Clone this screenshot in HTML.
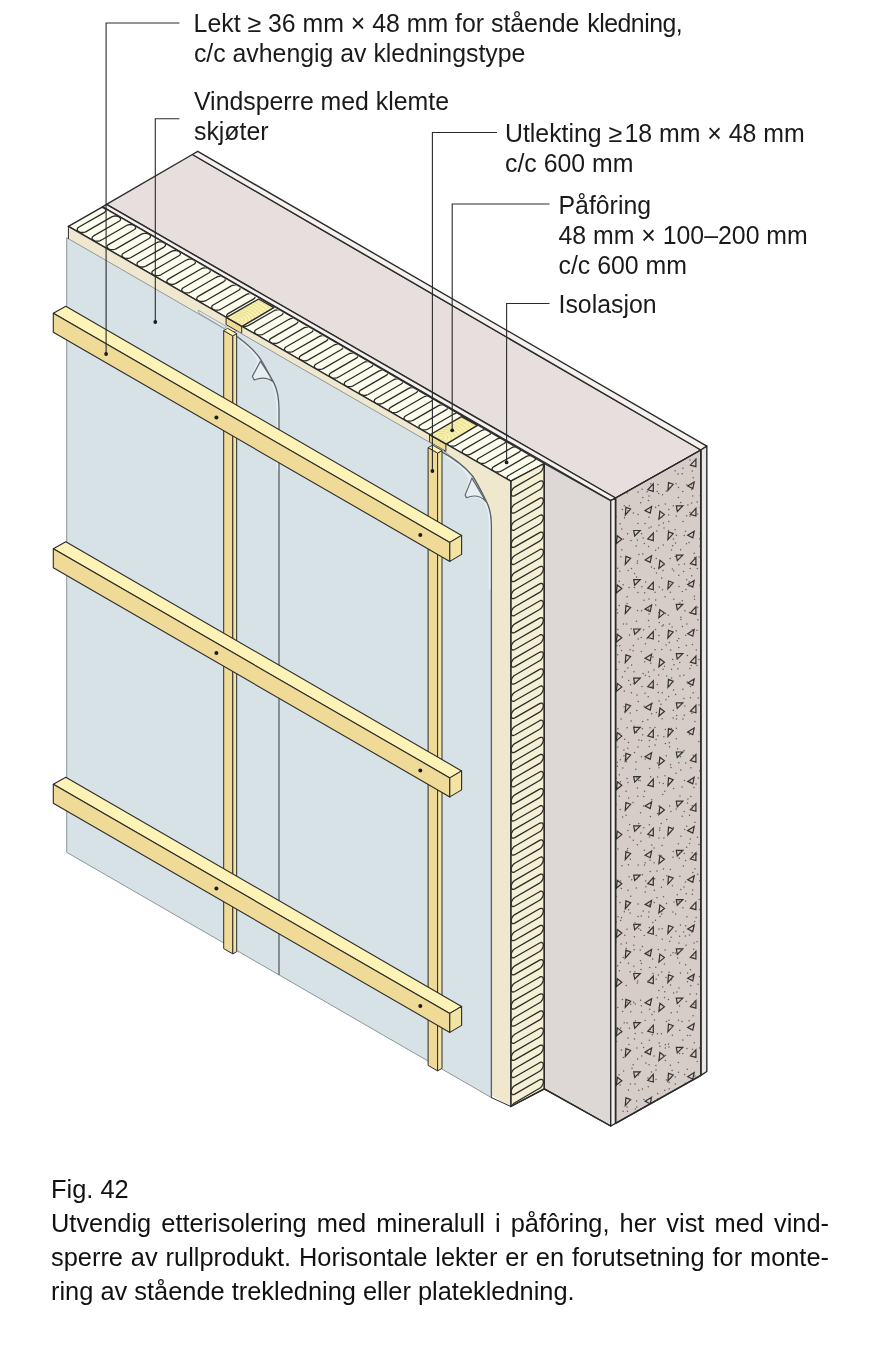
<!DOCTYPE html>
<html lang="no"><head><meta charset="utf-8"><title>Fig. 42</title>
<style>
html,body{margin:0;padding:0;background:#fff;}
body{width:894px;height:1356px;position:relative;overflow:hidden;font-family:"Liberation Sans",sans-serif;color:#111;}
svg{position:absolute;left:0;top:0;display:block;will-change:transform;}
.cap{will-change:transform;position:absolute;left:50.5px;top:1173.2px;width:778px;font-size:25.4px;line-height:33.9px;}
.cap div{white-space:nowrap;}
.cap .j{text-align:justify;text-align-last:justify;white-space:normal;}
</style></head><body>
<svg width="894" height="1356" viewBox="0 0 894 1356" font-family="'Liberation Sans', sans-serif" fill="#1a1a1a"><polygon points="106.5,204.4 192.4,154.5 700.9,450.0 615.6,498.0" fill="#e7dfdd" stroke="#2b2b2b" stroke-width="1.4" stroke-linejoin="round" />
<polygon points="192.4,154.5 197.7,151.3 706.8,446.2 700.9,450.0" fill="#f4f1ef" stroke="#2b2b2b" stroke-width="1.4" stroke-linejoin="round" />
<polygon points="102.6,206.8 106.5,204.4 615.6,498.0 610.7,500.7" fill="#f4f1ef" stroke="#2b2b2b" stroke-width="1.4" stroke-linejoin="round" />
<polygon points="68.4,226.4 102.6,206.8 544.3,463.5 510.8,481.2" fill="#fdfdee" stroke="#2b2b2b" stroke-width="1.4" stroke-linejoin="round" />
<clipPath id="cTop"><polygon points="68.4,226.4 102.6,206.8 544.3,463.5 510.8,481.2"/></clipPath>
<clipPath id="cT1"><polygon points="68.4,226.4 102.6,206.8 258.7,299.0 226.1,317.6"/></clipPath><path d="M74.3,195.3L48.7,210.0L47.8,210.8L47.3,211.7L47.3,212.7L47.8,213.6L48.7,214.4L50.1,214.9L51.7,215.2L53.3,215.2L54.9,214.9L56.2,214.4L81.8,199.6L83.1,199.0L84.7,198.8L86.3,198.8L87.9,199.0L89.2,199.6L90.2,200.4L90.7,201.3L90.7,202.2L90.2,203.2L89.2,203.9L63.7,218.7L62.7,219.4L62.2,220.3L62.2,221.3L62.7,222.2L63.7,223.0L65.0,223.5L66.6,223.8L68.3,223.8L69.8,223.5L71.2,223.0L96.7,208.2L98.0,207.7L99.6,207.4L101.3,207.4L102.8,207.7L104.2,208.2L105.2,209.0L105.7,209.9L105.7,210.9L105.2,211.8L104.2,212.6L78.6,227.3L77.7,228.1L77.2,229.0L77.2,229.9L77.7,230.8L78.6,231.6L80.0,232.2L81.6,232.5L83.2,232.5L84.8,232.2L86.1,231.6L111.7,216.9L113.0,216.3L114.6,216.0L116.2,216.0L117.8,216.3L119.1,216.9L120.1,217.6L120.6,218.6L120.6,219.5L120.1,220.4L119.1,221.2L93.6,235.9L92.6,236.7L92.1,237.6L92.1,238.6L92.6,239.5L93.6,240.2L94.9,240.8L96.5,241.1L98.2,241.1L99.7,240.8L101.1,240.2L126.6,225.5L127.9,224.9L129.5,224.6L131.2,224.6L132.7,224.9L134.1,225.5L135.1,226.3L135.6,227.2L135.6,228.1L135.1,229.0L134.1,229.8L108.5,244.6L107.6,245.3L107.1,246.2L107.1,247.2L107.6,248.1L108.5,248.9L109.9,249.4L111.5,249.7L113.1,249.7L114.7,249.4L116.0,248.9L141.6,234.1L142.9,233.6L144.5,233.3L146.1,233.3L147.7,233.6L149.0,234.1L150.0,234.9L150.5,235.8L150.5,236.8L150.0,237.7L149.0,238.5L123.5,253.2L122.5,254.0L122.0,254.9L122.0,255.8L122.5,256.7L123.5,257.5L124.8,258.1L126.4,258.4L128.1,258.4L129.6,258.1L131.0,257.5L156.5,242.8L157.8,242.2L159.4,241.9L161.1,241.9L162.6,242.2L164.0,242.8L165.0,243.5L165.5,244.4L165.5,245.4L165.0,246.3L164.0,247.1L138.4,261.8L137.5,262.6L137.0,263.5L137.0,264.5L137.5,265.4L138.4,266.1L139.8,266.7L141.4,267.0L143.0,267.0L144.6,266.7L145.9,266.1L171.5,251.4L172.8,250.8L174.4,250.5L176.0,250.5L177.6,250.8L178.9,251.4L179.9,252.2L180.4,253.1L180.4,254.0L179.9,254.9L178.9,255.7L153.4,270.5L152.4,271.2L151.9,272.1L151.9,273.1L152.4,274.0L153.4,274.8L154.7,275.3L156.3,275.6L158.0,275.6L159.5,275.3L160.9,274.8L186.4,260.0L187.7,259.5L189.3,259.2L191.0,259.2L192.5,259.5L193.9,260.0L194.9,260.8L195.4,261.7L195.4,262.7L194.9,263.6L193.9,264.3L168.3,279.1L167.4,279.9L166.9,280.8L166.9,281.7L167.4,282.6L168.3,283.4L169.7,284.0L171.3,284.3L172.9,284.3L174.5,284.0L175.8,283.4L201.4,268.7L202.7,268.1L204.3,267.8L205.9,267.8L207.5,268.1L208.8,268.7L209.8,269.4L210.3,270.3L210.3,271.3L209.8,272.2L208.8,273.0L183.3,287.7L182.3,288.5L181.8,289.4L181.8,290.4L182.3,291.3L183.3,292.0L184.6,292.6L186.2,292.9L187.9,292.9L189.4,292.6L190.8,292.0L216.3,277.3L217.6,276.7L219.2,276.4L220.9,276.4L222.4,276.7L223.8,277.3L224.8,278.1L225.3,279.0L225.3,279.9L224.8,280.8L223.8,281.6L198.2,296.4L197.3,297.1L196.8,298.0L196.8,299.0L197.3,299.9L198.2,300.7L199.6,301.2L201.2,301.5L202.8,301.5L204.4,301.2L205.7,300.7L231.3,285.9L232.6,285.4L234.2,285.1L235.8,285.1L237.4,285.4L238.7,285.9L239.7,286.7L240.2,287.6L240.2,288.6L239.7,289.5L238.7,290.2L213.2,305.0L212.2,305.8L211.7,306.7L211.7,307.6L212.2,308.5L213.2,309.3L214.5,309.9L216.1,310.2L217.8,310.2L219.3,309.9L220.7,309.3L246.2,294.6L247.5,294.0L249.1,293.7L250.8,293.7L252.3,294.0L253.7,294.6L254.7,295.3L255.2,296.2L255.2,297.2L254.7,298.1L253.7,298.9L228.1,313.6L227.2,314.4L226.7,315.3L226.7,316.3L227.2,317.2L228.1,317.9L229.5,318.5L231.1,318.8L232.7,318.8L234.3,318.5L235.6,317.9L261.2,303.2L262.5,302.6L264.1,302.3L265.7,302.3L267.3,302.6L268.6,303.2L269.6,304.0L270.1,304.9L270.1,305.8L269.6,306.7L268.6,307.5L243.1,322.2L242.1,323.0L241.6,323.9L241.6,324.9L242.1,325.8L243.1,326.6L244.4,327.1L246.0,327.4L247.7,327.4L249.2,327.1L250.6,326.6L276.1,311.8L277.4,311.3L279.0,311.0L280.7,311.0L282.2,311.3L283.6,311.8L284.6,312.6L285.1,313.5L285.1,314.5L284.6,315.4L283.6,316.1L258.0,330.9L257.1,331.7L256.6,332.6L256.6,333.5L257.1,334.4L258.0,335.2L259.4,335.8L261.0,336.1L262.6,336.1L264.2,335.8L265.5,335.2L291.1,320.5L292.4,319.9L294.0,319.6L295.6,319.6L297.2,319.9L298.5,320.5L299.5,321.2L300.0,322.1L300.0,323.1L299.5,324.0L298.5,324.8L273.0,339.5L272.0,340.3L271.5,341.2L271.5,342.1L272.0,343.1L273.0,343.8L274.3,344.4L275.9,344.7L277.6,344.7L279.1,344.4L280.5,343.8L306.0,329.1L307.3,328.5L308.9,328.2L310.6,328.2L312.1,328.5L313.5,329.1L314.5,329.9L315.0,330.8L315.0,331.7L314.5,332.6L313.5,333.4L287.9,348.1L287.0,348.9L286.5,349.8L286.5,350.8L287.0,351.7L287.9,352.5L289.3,353.0L290.9,353.3L292.5,353.3L294.1,353.0L295.4,352.5L321.0,337.7L322.3,337.2L323.9,336.9L325.5,336.9L327.1,337.2L328.4,337.7L329.4,338.5L329.9,339.4L329.9,340.4L329.4,341.3L328.4,342.0L302.9,356.8L301.9,357.5L301.4,358.5L301.4,359.4L301.9,360.3L302.9,361.1L304.2,361.7L305.8,361.9L307.5,361.9L309.0,361.7L310.4,361.1L335.9,346.3L337.2,345.8L338.8,345.5L340.5,345.5L342.0,345.8L343.4,346.3L344.4,347.1L344.9,348.0L344.9,349.0L344.4,349.9L343.4,350.7L317.8,365.4L316.9,366.2L316.4,367.1L316.4,368.0L316.9,369.0L317.8,369.7L319.2,370.3L320.8,370.6L322.4,370.6L324.0,370.3L325.3,369.7L350.9,355.0L352.2,354.4L353.8,354.1L355.4,354.1L357.0,354.4L358.3,355.0L359.3,355.8L359.8,356.7L359.8,357.6L359.3,358.5L358.3,359.3L332.8,374.0L331.8,374.8L331.3,375.7L331.3,376.7L331.8,377.6L332.8,378.4L334.1,378.9L335.7,379.2L337.4,379.2L338.9,378.9L340.3,378.4L365.8,363.6L367.1,363.0L368.7,362.8L370.4,362.8L371.9,363.0L373.3,363.6L374.3,364.4L374.8,365.3L374.8,366.2L374.3,367.2L373.3,367.9L347.7,382.7L346.8,383.4L346.3,384.4L346.3,385.3L346.8,386.2L347.7,387.0L349.1,387.5L350.7,387.8L352.3,387.8L353.9,387.5L355.2,387.0L380.8,372.2L382.1,371.7L383.7,371.4L385.3,371.4L386.9,371.7L388.2,372.2L389.2,373.0L389.7,373.9L389.7,374.9L389.2,375.8L388.2,376.6L362.7,391.3L361.7,392.1L361.2,393.0L361.2,393.9L361.7,394.8L362.7,395.6L364.0,396.2L365.6,396.5L367.3,396.5L368.8,396.2L370.2,395.6L395.7,380.9L397.0,380.3L398.6,380.0L400.3,380.0L401.8,380.3L403.2,380.9L404.2,381.6L404.7,382.6L404.7,383.5L404.2,384.4L403.2,385.2L377.6,399.9L376.7,400.7L376.2,401.6L376.2,402.6L376.7,403.5L377.6,404.2L379.0,404.8L380.6,405.1L382.2,405.1L383.8,404.8L385.1,404.2" fill="none" stroke="#2b2b2b" stroke-width="1.3" clip-path="url(#cT1)" stroke-linejoin="round"/>
<clipPath id="cT2"><polygon points="241.7,326.6 273.8,307.6 461.5,416.6 429.6,435.0"/></clipPath><path d="M251.7,297.7L226.1,312.5L225.2,313.2L224.7,314.1L224.7,315.1L225.2,316.0L226.1,316.8L227.5,317.3L229.1,317.6L230.7,317.6L232.3,317.3L233.6,316.8L259.2,302.0L260.5,301.5L262.1,301.2L263.7,301.2L265.3,301.5L266.6,302.0L267.6,302.8L268.1,303.7L268.1,304.7L267.6,305.6L266.6,306.4L241.1,321.1L240.1,321.9L239.6,322.8L239.6,323.7L240.1,324.6L241.1,325.4L242.4,326.0L244.0,326.3L245.7,326.3L247.2,326.0L248.6,325.4L274.1,310.7L275.4,310.1L277.0,309.8L278.7,309.8L280.2,310.1L281.6,310.7L282.6,311.4L283.1,312.3L283.1,313.3L282.6,314.2L281.6,315.0L256.0,329.7L255.1,330.5L254.6,331.4L254.6,332.4L255.1,333.3L256.0,334.0L257.4,334.6L259.0,334.9L260.6,334.9L262.2,334.6L263.5,334.0L289.1,319.3L290.4,318.7L292.0,318.4L293.6,318.4L295.2,318.7L296.5,319.3L297.5,320.1L298.0,321.0L298.0,321.9L297.5,322.8L296.5,323.6L271.0,338.4L270.0,339.1L269.5,340.0L269.5,341.0L270.0,341.9L271.0,342.7L272.3,343.2L273.9,343.5L275.6,343.5L277.1,343.2L278.5,342.7L304.0,327.9L305.3,327.4L306.9,327.1L308.6,327.1L310.1,327.4L311.5,327.9L312.5,328.7L313.0,329.6L313.0,330.6L312.5,331.5L311.5,332.2L285.9,347.0L285.0,347.8L284.5,348.7L284.5,349.6L285.0,350.5L285.9,351.3L287.3,351.9L288.9,352.2L290.5,352.2L292.1,351.9L293.4,351.3L319.0,336.6L320.3,336.0L321.9,335.7L323.5,335.7L325.1,336.0L326.4,336.6L327.4,337.3L327.9,338.2L327.9,339.2L327.4,340.1L326.4,340.9L300.9,355.6L299.9,356.4L299.4,357.3L299.4,358.3L299.9,359.2L300.9,359.9L302.2,360.5L303.8,360.8L305.5,360.8L307.0,360.5L308.4,359.9L333.9,345.2L335.2,344.6L336.8,344.3L338.5,344.3L340.0,344.6L341.4,345.2L342.4,346.0L342.9,346.9L342.9,347.8L342.4,348.7L341.4,349.5L315.8,364.3L314.9,365.0L314.4,365.9L314.4,366.9L314.9,367.8L315.8,368.6L317.2,369.1L318.8,369.4L320.4,369.4L322.0,369.1L323.3,368.6L348.9,353.8L350.2,353.3L351.8,353.0L353.4,353.0L355.0,353.3L356.3,353.8L357.3,354.6L357.8,355.5L357.8,356.5L357.3,357.4L356.3,358.1L330.8,372.9L329.8,373.7L329.3,374.6L329.3,375.5L329.8,376.4L330.8,377.2L332.1,377.8L333.7,378.1L335.4,378.1L336.9,377.8L338.3,377.2L363.8,362.5L365.1,361.9L366.7,361.6L368.4,361.6L369.9,361.9L371.3,362.5L372.3,363.2L372.8,364.1L372.8,365.1L372.3,366.0L371.3,366.8L345.7,381.5L344.8,382.3L344.3,383.2L344.3,384.2L344.8,385.1L345.7,385.8L347.1,386.4L348.7,386.7L350.3,386.7L351.9,386.4L353.2,385.8L378.8,371.1L380.1,370.5L381.7,370.2L383.3,370.2L384.9,370.5L386.2,371.1L387.2,371.9L387.7,372.8L387.7,373.7L387.2,374.6L386.2,375.4L360.7,390.1L359.7,390.9L359.2,391.8L359.2,392.8L359.7,393.7L360.7,394.5L362.0,395.0L363.6,395.3L365.3,395.3L366.8,395.0L368.2,394.5L393.7,379.7L395.0,379.2L396.6,378.9L398.3,378.9L399.8,379.2L401.2,379.7L402.2,380.5L402.7,381.4L402.7,382.4L402.2,383.3L401.2,384.0L375.6,398.8L374.7,399.6L374.2,400.5L374.2,401.4L374.7,402.3L375.6,403.1L377.0,403.7L378.6,404.0L380.2,404.0L381.8,403.7L383.1,403.1L408.7,388.4L410.0,387.8L411.6,387.5L413.2,387.5L414.8,387.8L416.1,388.4L417.1,389.1L417.6,390.0L417.6,391.0L417.1,391.9L416.1,392.7L390.6,407.4L389.6,408.2L389.1,409.1L389.1,410.0L389.6,411.0L390.6,411.7L391.9,412.3L393.5,412.6L395.2,412.6L396.7,412.3L398.1,411.7L423.6,397.0L424.9,396.4L426.5,396.1L428.2,396.1L429.7,396.4L431.1,397.0L432.1,397.8L432.6,398.7L432.6,399.6L432.1,400.5L431.1,401.3L405.5,416.0L404.6,416.8L404.1,417.7L404.1,418.7L404.6,419.6L405.5,420.4L406.9,420.9L408.5,421.2L410.1,421.2L411.7,420.9L413.0,420.4L438.6,405.6L439.9,405.1L441.5,404.8L443.1,404.8L444.7,405.1L446.0,405.6L447.0,406.4L447.5,407.3L447.5,408.2L447.0,409.2L446.0,409.9L420.5,424.7L419.5,425.4L419.0,426.4L419.0,427.3L419.5,428.2L420.5,429.0L421.8,429.6L423.4,429.8L425.1,429.8L426.6,429.6L428.0,429.0L453.5,414.2L454.8,413.7L456.4,413.4L458.1,413.4L459.6,413.7L461.0,414.2L462.0,415.0L462.5,415.9L462.5,416.9L462.0,417.8L461.0,418.6L435.4,433.3L434.5,434.1L434.0,435.0L434.0,435.9L434.5,436.8L435.4,437.6L436.8,438.2L438.4,438.5L440.0,438.5L441.6,438.2L442.9,437.6L468.5,422.9L469.8,422.3L471.4,422.0L473.0,422.0L474.6,422.3L475.9,422.9L476.9,423.7L477.4,424.6L477.4,425.5L476.9,426.4L475.9,427.2L450.4,441.9L449.4,442.7L448.9,443.6L448.9,444.6L449.4,445.5L450.4,446.3L451.7,446.8L453.3,447.1L455.0,447.1L456.5,446.8L457.9,446.3L483.4,431.5L484.7,430.9L486.3,430.7L488.0,430.7L489.5,430.9L490.9,431.5L491.9,432.3L492.4,433.2L492.4,434.1L491.9,435.1L490.9,435.8L465.3,450.6L464.4,451.3L463.9,452.2L463.9,453.2L464.4,454.1L465.3,454.9L466.7,455.4L468.3,455.7L469.9,455.7L471.5,455.4L472.8,454.9L498.4,440.1L499.7,439.6L501.3,439.3L502.9,439.3L504.5,439.6L505.8,440.1L506.8,440.9L507.3,441.8L507.3,442.8L506.8,443.7L505.8,444.5L480.3,459.2L479.3,460.0L478.8,460.9L478.8,461.8L479.3,462.7L480.3,463.5L481.6,464.1L483.2,464.4L484.9,464.4L486.4,464.1L487.8,463.5L513.3,448.8L514.6,448.2L516.2,447.9L517.9,447.9L519.4,448.2L520.8,448.8L521.8,449.5L522.3,450.5L522.3,451.4L521.8,452.3L520.8,453.1L495.2,467.8L494.3,468.6L493.8,469.5L493.8,470.5L494.3,471.4L495.2,472.1L496.6,472.7L498.2,473.0L499.8,473.0L501.4,472.7L502.7,472.1L528.3,457.4L529.6,456.8L531.2,456.5L532.8,456.5L534.4,456.8L535.7,457.4L536.7,458.2L537.2,459.1L537.2,460.0L536.7,460.9L535.7,461.7L510.2,476.5L509.2,477.2L508.7,478.1L508.7,479.1L509.2,480.0L510.2,480.8L511.5,481.3L513.1,481.6L514.8,481.6L516.3,481.3L517.7,480.8L543.2,466.0L544.5,465.5L546.1,465.2L547.8,465.2L549.3,465.5L550.7,466.0L551.7,466.8L552.2,467.7L552.2,468.7L551.7,469.6L550.7,470.4L525.1,485.1L524.2,485.9L523.7,486.8L523.7,487.7L524.2,488.6L525.1,489.4L526.5,490.0L528.1,490.3L529.7,490.3L531.3,490.0L532.6,489.4L558.2,474.7L559.5,474.1L561.1,473.8L562.7,473.8L564.3,474.1L565.6,474.7L566.6,475.4L567.1,476.3L567.1,477.3L566.6,478.2L565.6,479.0L540.1,493.7L539.1,494.5L538.6,495.4L538.6,496.4L539.1,497.3L540.1,498.0L541.4,498.6L543.0,498.9L544.7,498.9L546.2,498.6L547.6,498.0L573.1,483.3L574.4,482.7L576.0,482.4L577.7,482.4L579.2,482.7L580.6,483.3L581.6,484.1L582.1,485.0L582.1,485.9L581.6,486.8L580.6,487.6L555.0,502.4L554.1,503.1L553.6,504.0L553.6,505.0L554.1,505.9L555.0,506.7L556.4,507.2L558.0,507.5L559.6,507.5L561.2,507.2L562.5,506.7" fill="none" stroke="#2b2b2b" stroke-width="1.3" clip-path="url(#cT2)" stroke-linejoin="round"/>
<clipPath id="cT3"><polygon points="445.9,444.4 477.4,425.4 544.3,463.5 510.8,481.2"/></clipPath><path d="M459.3,417.6L433.7,432.3L432.8,433.1L432.3,434.0L432.3,435.0L432.8,435.9L433.7,436.6L435.1,437.2L436.7,437.5L438.3,437.5L439.9,437.2L441.2,436.6L466.8,421.9L468.1,421.3L469.7,421.0L471.3,421.0L472.9,421.3L474.2,421.9L475.2,422.7L475.7,423.6L475.7,424.5L475.2,425.4L474.2,426.2L448.7,441.0L447.7,441.7L447.2,442.6L447.2,443.6L447.7,444.5L448.7,445.3L450.0,445.8L451.6,446.1L453.3,446.1L454.8,445.8L456.2,445.3L481.7,430.5L483.0,430.0L484.6,429.7L486.3,429.7L487.8,430.0L489.2,430.5L490.2,431.3L490.7,432.2L490.7,433.2L490.2,434.1L489.2,434.8L463.6,449.6L462.7,450.4L462.2,451.3L462.2,452.2L462.7,453.1L463.6,453.9L465.0,454.5L466.6,454.8L468.2,454.8L469.8,454.5L471.1,453.9L496.7,439.2L498.0,438.6L499.6,438.3L501.2,438.3L502.8,438.6L504.1,439.2L505.1,439.9L505.6,440.8L505.6,441.8L505.1,442.7L504.1,443.5L478.6,458.2L477.6,459.0L477.1,459.9L477.1,460.9L477.6,461.8L478.6,462.5L479.9,463.1L481.5,463.4L483.2,463.4L484.7,463.1L486.1,462.5L511.6,447.8L512.9,447.2L514.5,446.9L516.2,446.9L517.7,447.2L519.1,447.8L520.1,448.6L520.6,449.5L520.6,450.4L520.1,451.3L519.1,452.1L493.5,466.9L492.6,467.6L492.1,468.5L492.1,469.5L492.6,470.4L493.5,471.2L494.9,471.7L496.5,472.0L498.1,472.0L499.7,471.7L501.0,471.2L526.6,456.4L527.9,455.9L529.5,455.6L531.1,455.6L532.7,455.9L534.0,456.4L535.0,457.2L535.5,458.1L535.5,459.1L535.0,460.0L534.0,460.7L508.5,475.5L507.5,476.3L507.0,477.2L507.0,478.1L507.5,479.0L508.5,479.8L509.8,480.4L511.4,480.7L513.1,480.7L514.6,480.4L516.0,479.8L541.5,465.1L542.8,464.5L544.4,464.2L546.1,464.2L547.6,464.5L549.0,465.1L550.0,465.8L550.5,466.7L550.5,467.7L550.0,468.6L549.0,469.4L523.4,484.1L522.5,484.9L522.0,485.8L522.0,486.7L522.5,487.7L523.4,488.4L524.8,489.0L526.4,489.3L528.0,489.3L529.6,489.0L530.9,488.4L556.5,473.7L557.8,473.1L559.4,472.8L561.0,472.8L562.6,473.1L563.9,473.7L564.9,474.5L565.4,475.4L565.4,476.3L564.9,477.2L563.9,478.0L538.4,492.7L537.4,493.5L536.9,494.4L536.9,495.4L537.4,496.3L538.4,497.1L539.7,497.6L541.3,497.9L543.0,497.9L544.5,497.6L545.9,497.1L571.4,482.3L572.7,481.8L574.3,481.5L576.0,481.5L577.5,481.8L578.9,482.3L579.9,483.1L580.4,484.0L580.4,485.0L579.9,485.9L578.9,486.6L553.3,501.4L552.4,502.1L551.9,503.1L551.9,504.0L552.4,504.9L553.3,505.7L554.7,506.3L556.3,506.5L557.9,506.5L559.5,506.3L560.8,505.7L586.4,490.9L587.7,490.4L589.3,490.1L590.9,490.1L592.5,490.4L593.8,490.9L594.8,491.7L595.3,492.6L595.3,493.6L594.8,494.5L593.8,495.3L568.3,510.0L567.3,510.8L566.8,511.7L566.8,512.6L567.3,513.6L568.3,514.3L569.6,514.9L571.2,515.2L572.9,515.2L574.4,514.9L575.8,514.3L601.3,499.6L602.6,499.0L604.2,498.7L605.9,498.7L607.4,499.0L608.8,499.6L609.8,500.4L610.3,501.3L610.3,502.2L609.8,503.1L608.8,503.9L583.2,518.6L582.3,519.4L581.8,520.3L581.8,521.3L582.3,522.2L583.2,523.0L584.6,523.5L586.2,523.8L587.8,523.8L589.4,523.5L590.7,523.0L616.3,508.2L617.6,507.7L619.2,507.4L620.8,507.4L622.4,507.7L623.7,508.2L624.7,509.0L625.2,509.9L625.2,510.8L624.7,511.8L623.7,512.5L598.2,527.3L597.2,528.0L596.7,529.0L596.7,529.9L597.2,530.8L598.2,531.6L599.5,532.1L601.1,532.4L602.8,532.4L604.3,532.1L605.7,531.6L631.2,516.8L632.5,516.3L634.1,516.0L635.8,516.0L637.3,516.3L638.7,516.8L639.7,517.6L640.2,518.5L640.2,519.5L639.7,520.4L638.7,521.2L613.1,535.9L612.2,536.7L611.7,537.6L611.7,538.5L612.2,539.4L613.1,540.2L614.5,540.8L616.1,541.1L617.7,541.1L619.3,540.8L620.6,540.2L646.2,525.5L647.5,524.9L649.1,524.6L650.7,524.6L652.3,524.9L653.6,525.5L654.6,526.2L655.1,527.2L655.1,528.1L654.6,529.0L653.6,529.8L628.1,544.5L627.1,545.3L626.6,546.2L626.6,547.2L627.1,548.1L628.1,548.9L629.4,549.4L631.0,549.7L632.7,549.7L634.2,549.4L635.6,548.9L661.1,534.1L662.4,533.5L664.0,533.3L665.7,533.3L667.2,533.5L668.6,534.1L669.6,534.9L670.1,535.8L670.1,536.7L669.6,537.7L668.6,538.4L643.0,553.2L642.1,553.9L641.6,554.8L641.6,555.8L642.1,556.7L643.0,557.5L644.4,558.0L646.0,558.3L647.6,558.3L649.2,558.0L650.5,557.5L676.1,542.7L677.4,542.2L679.0,541.9L680.6,541.9L682.2,542.2L683.5,542.7L684.5,543.5L685.0,544.4L685.0,545.4L684.5,546.3L683.5,547.1L658.0,561.8L657.0,562.6L656.5,563.5L656.5,564.4L657.0,565.3L658.0,566.1L659.3,566.7L660.9,567.0L662.6,567.0L664.1,566.7L665.5,566.1L691.0,551.4L692.3,550.8L693.9,550.5L695.6,550.5L697.1,550.8L698.5,551.4L699.5,552.1L700.0,553.1L700.0,554.0L699.5,554.9L698.5,555.7L672.9,570.4L672.0,571.2L671.5,572.1L671.5,573.1L672.0,574.0L672.9,574.7L674.3,575.3L675.9,575.6L677.5,575.6L679.1,575.3L680.4,574.7L706.0,560.0L707.3,559.4L708.9,559.1L710.5,559.1L712.1,559.4L713.4,560.0L714.4,560.8L714.9,561.7L714.9,562.6L714.4,563.5L713.4,564.3L687.9,579.1L686.9,579.8L686.4,580.7L686.4,581.7L686.9,582.6L687.9,583.4L689.2,583.9L690.8,584.2L692.5,584.2L694.0,583.9L695.4,583.4L720.9,568.6L722.2,568.1L723.8,567.8L725.5,567.8L727.0,568.1L728.4,568.6L729.4,569.4L729.9,570.3L729.9,571.3L729.4,572.2L728.4,572.9L702.8,587.7L701.9,588.5L701.4,589.4L701.4,590.3L701.9,591.2L702.8,592.0L704.2,592.6L705.8,592.9L707.4,592.9L709.0,592.6L710.3,592.0L735.9,577.3L737.2,576.7L738.8,576.4L740.4,576.4L742.0,576.7L743.3,577.3L744.3,578.0L744.8,578.9L744.8,579.9L744.3,580.8L743.3,581.6L717.8,596.3L716.8,597.1L716.3,598.0L716.3,599.0L716.8,599.9L717.8,600.6L719.1,601.2L720.7,601.5L722.4,601.5L723.9,601.2L725.3,600.6L750.8,585.9L752.1,585.3L753.7,585.0L755.4,585.0L756.9,585.3L758.3,585.9L759.3,586.7L759.8,587.6L759.8,588.5L759.3,589.4L758.3,590.2L732.7,605.0L731.8,605.7L731.3,606.6L731.3,607.6L731.8,608.5L732.7,609.3L734.1,609.8L735.7,610.1L737.3,610.1L738.9,609.8L740.2,609.3L765.8,594.5L767.1,594.0L768.7,593.7L770.3,593.7L771.9,594.0L773.2,594.5L774.2,595.3L774.7,596.2L774.7,597.2L774.2,598.1L773.2,598.8L747.7,613.6L746.7,614.4L746.2,615.3L746.2,616.2L746.7,617.1L747.7,617.9L749.0,618.5L750.6,618.8L752.3,618.8L753.8,618.5L755.2,617.9L780.7,603.2L782.0,602.6L783.6,602.3L785.3,602.3L786.8,602.6L788.2,603.2L789.2,603.9L789.7,604.8L789.7,605.8L789.2,606.7L788.2,607.5L762.6,622.2L761.7,623.0L761.2,623.9L761.2,624.9L761.7,625.8L762.6,626.5L764.0,627.1L765.6,627.4L767.2,627.4L768.8,627.1L770.1,626.5" fill="none" stroke="#2b2b2b" stroke-width="1.3" clip-path="url(#cT3)" stroke-linejoin="round"/>
<clipPath id="cS1"><polygon points="226.1,317.6 241.7,326.6 273.8,307.6 258.7,299.0"/></clipPath><polygon points="226.1,317.6 241.7,326.6 273.8,307.6 258.7,299.0" fill="#f9f2ad" stroke="none" stroke-width="1.4" stroke-linejoin="round" /><g clip-path="url(#cS1)" fill="none" stroke="#ddd48f" stroke-width="0.8"><ellipse cx="237.6" cy="320.1" rx="3.0" ry="1.9"/><ellipse cx="237.6" cy="320.1" rx="6.7" ry="4.1"/><ellipse cx="237.6" cy="320.1" rx="10.4" ry="6.3"/><ellipse cx="237.6" cy="320.1" rx="14.0" ry="8.5"/><ellipse cx="237.6" cy="320.1" rx="17.7" ry="10.7"/><ellipse cx="237.6" cy="320.1" rx="21.3" ry="12.9"/><ellipse cx="237.6" cy="320.1" rx="25.0" ry="15.2"/><ellipse cx="237.6" cy="320.1" rx="29.3" ry="17.8"/><ellipse cx="237.6" cy="320.1" rx="33.5" ry="20.4"/><ellipse cx="237.6" cy="320.1" rx="37.8" ry="22.9"/><ellipse cx="237.6" cy="320.1" rx="42.7" ry="25.9"/></g><polygon points="226.1,317.6 241.7,326.6 273.8,307.6 258.7,299.0" fill="none" stroke="#2b2b2b" stroke-width="1.4" stroke-linejoin="round" />
<clipPath id="cS2"><polygon points="429.6,435.0 445.9,444.4 477.4,425.4 461.5,416.6"/></clipPath><polygon points="429.6,435.0 445.9,444.4 477.4,425.4 461.5,416.6" fill="#f9f2ad" stroke="none" stroke-width="1.4" stroke-linejoin="round" /><g clip-path="url(#cS2)" fill="none" stroke="#ddd48f" stroke-width="0.8"><ellipse cx="441.1" cy="437.5" rx="3.0" ry="1.9"/><ellipse cx="441.1" cy="437.5" rx="6.7" ry="4.1"/><ellipse cx="441.1" cy="437.5" rx="10.4" ry="6.3"/><ellipse cx="441.1" cy="437.5" rx="14.0" ry="8.5"/><ellipse cx="441.1" cy="437.5" rx="17.7" ry="10.7"/><ellipse cx="441.1" cy="437.5" rx="21.3" ry="12.9"/><ellipse cx="441.1" cy="437.5" rx="25.0" ry="15.2"/><ellipse cx="441.1" cy="437.5" rx="29.3" ry="17.8"/><ellipse cx="441.1" cy="437.5" rx="33.5" ry="20.4"/><ellipse cx="441.1" cy="437.5" rx="37.8" ry="22.9"/><ellipse cx="441.1" cy="437.5" rx="42.7" ry="25.9"/></g><polygon points="429.6,435.0 445.9,444.4 477.4,425.4 461.5,416.6" fill="none" stroke="#2b2b2b" stroke-width="1.4" stroke-linejoin="round" />
<polygon points="510.8,481.2 544.3,463.5 544.3,1088.8 510.8,1106.5" fill="#f5efd4" stroke="#2b2b2b" stroke-width="1.4" stroke-linejoin="round" />
<polygon points="544.3,463.5 610.7,500.7 610.7,1126.0 544.3,1088.8" fill="#ddd8d5" stroke="#2b2b2b" stroke-width="1.4" stroke-linejoin="round" />
<polygon points="610.7,500.7 615.6,498.0 615.6,1123.3 610.7,1126.0" fill="#f0edea" stroke="#2b2b2b" stroke-width="1.4" stroke-linejoin="round" />
<polygon points="615.6,498.0 700.9,450.0 700.9,1075.3 615.6,1123.3" fill="#d6cdc9" stroke="#2b2b2b" stroke-width="1.4" stroke-linejoin="round" />
<polygon points="700.9,450.0 706.8,446.2 706.8,1071.5 700.9,1075.3" fill="#ebe7e4" stroke="#2b2b2b" stroke-width="1.4" stroke-linejoin="round" />
<clipPath id="cSide"><polygon points="510.8,481.2 544.3,463.5 544.3,1088.8 510.8,1106.5"/></clipPath>
<path d="M539.6,438.5L514.8,452.9L513.6,453.8L512.6,455.0L511.8,456.4L511.2,457.9L511.1,459.3L511.2,460.5L511.8,461.4L512.6,461.9L513.6,461.9L514.8,461.4L539.6,447.1L540.8,446.6L541.8,446.6L542.6,447.1L543.2,448.0L543.4,449.2L543.2,450.6L542.6,452.1L541.8,453.5L540.8,454.7L539.6,455.6L514.8,470.0L513.6,470.9L512.6,472.1L511.8,473.5L511.2,475.0L511.1,476.4L511.2,477.6L511.8,478.5L512.6,479.0L513.6,479.0L514.8,478.5L539.6,464.2L540.8,463.7L541.8,463.7L542.6,464.2L543.2,465.1L543.4,466.3L543.2,467.7L542.6,469.2L541.8,470.6L540.8,471.8L539.6,472.7L514.8,487.1L513.6,488.0L512.6,489.2L511.8,490.6L511.2,492.1L511.1,493.5L511.2,494.7L511.8,495.6L512.6,496.1L513.6,496.1L514.8,495.6L539.6,481.3L540.8,480.8L541.8,480.8L542.6,481.3L543.2,482.2L543.4,483.4L543.2,484.8L542.6,486.3L541.8,487.7L540.8,488.9L539.6,489.8L514.8,504.2L513.6,505.1L512.6,506.3L511.8,507.7L511.2,509.2L511.1,510.6L511.2,511.8L511.8,512.7L512.6,513.2L513.6,513.2L514.8,512.7L539.6,498.4L540.8,497.9L541.8,497.9L542.6,498.4L543.2,499.3L543.4,500.5L543.2,501.9L542.6,503.4L541.8,504.8L540.8,506.0L539.6,506.9L514.8,521.3L513.6,522.2L512.6,523.4L511.8,524.8L511.2,526.3L511.1,527.7L511.2,528.9L511.8,529.8L512.6,530.3L513.6,530.3L514.8,529.8L539.6,515.5L540.8,515.0L541.8,515.0L542.6,515.5L543.2,516.4L543.4,517.6L543.2,519.0L542.6,520.5L541.8,521.9L540.8,523.1L539.6,524.0L514.8,538.4L513.6,539.3L512.6,540.5L511.8,541.9L511.2,543.4L511.1,544.8L511.2,546.0L511.8,546.9L512.6,547.4L513.6,547.4L514.8,546.9L539.6,532.6L540.8,532.1L541.8,532.1L542.6,532.6L543.2,533.5L543.4,534.7L543.2,536.1L542.6,537.6L541.8,539.0L540.8,540.2L539.6,541.1L514.8,555.5L513.6,556.4L512.6,557.6L511.8,559.0L511.2,560.5L511.1,561.9L511.2,563.1L511.8,564.0L512.6,564.5L513.6,564.5L514.8,564.0L539.6,549.7L540.8,549.2L541.8,549.2L542.6,549.7L543.2,550.6L543.4,551.8L543.2,553.2L542.6,554.7L541.8,556.1L540.8,557.3L539.6,558.2L514.8,572.6L513.6,573.5L512.6,574.7L511.8,576.1L511.2,577.6L511.1,579.0L511.2,580.2L511.8,581.1L512.6,581.6L513.6,581.6L514.8,581.1L539.6,566.8L540.8,566.3L541.8,566.3L542.6,566.8L543.2,567.7L543.4,568.9L543.2,570.3L542.6,571.8L541.8,573.2L540.8,574.4L539.6,575.3L514.8,589.7L513.6,590.6L512.6,591.8L511.8,593.2L511.2,594.7L511.1,596.1L511.2,597.3L511.8,598.2L512.6,598.7L513.6,598.7L514.8,598.2L539.6,583.9L540.8,583.4L541.8,583.4L542.6,583.9L543.2,584.8L543.4,586.0L543.2,587.4L542.6,588.9L541.8,590.3L540.8,591.5L539.6,592.4L514.8,606.8L513.6,607.7L512.6,608.9L511.8,610.3L511.2,611.8L511.1,613.2L511.2,614.4L511.8,615.3L512.6,615.8L513.6,615.8L514.8,615.3L539.6,601.0L540.8,600.5L541.8,600.5L542.6,601.0L543.2,601.9L543.4,603.1L543.2,604.5L542.6,606.0L541.8,607.4L540.8,608.6L539.6,609.5L514.8,623.9L513.6,624.8L512.6,626.0L511.8,627.4L511.2,628.9L511.1,630.3L511.2,631.5L511.8,632.4L512.6,632.9L513.6,632.9L514.8,632.4L539.6,618.1L540.8,617.6L541.8,617.6L542.6,618.1L543.2,619.0L543.4,620.2L543.2,621.6L542.6,623.1L541.8,624.5L540.8,625.7L539.6,626.6L514.8,641.0L513.6,641.9L512.6,643.1L511.8,644.5L511.2,646.0L511.1,647.4L511.2,648.6L511.8,649.5L512.6,650.0L513.6,650.0L514.8,649.5L539.6,635.2L540.8,634.7L541.8,634.7L542.6,635.2L543.2,636.1L543.4,637.3L543.2,638.7L542.6,640.2L541.8,641.6L540.8,642.8L539.6,643.7L514.8,658.1L513.6,659.0L512.6,660.2L511.8,661.6L511.2,663.1L511.1,664.5L511.2,665.7L511.8,666.6L512.6,667.1L513.6,667.1L514.8,666.6L539.6,652.3L540.8,651.8L541.8,651.8L542.6,652.3L543.2,653.2L543.4,654.4L543.2,655.8L542.6,657.3L541.8,658.7L540.8,659.9L539.6,660.8L514.8,675.2L513.6,676.1L512.6,677.3L511.8,678.7L511.2,680.2L511.1,681.6L511.2,682.8L511.8,683.7L512.6,684.2L513.6,684.2L514.8,683.7L539.6,669.4L540.8,668.9L541.8,668.9L542.6,669.4L543.2,670.3L543.4,671.5L543.2,672.9L542.6,674.4L541.8,675.8L540.8,677.0L539.6,677.9L514.8,692.3L513.6,693.2L512.6,694.4L511.8,695.8L511.2,697.3L511.1,698.7L511.2,699.9L511.8,700.8L512.6,701.3L513.6,701.3L514.8,700.8L539.6,686.5L540.8,686.0L541.8,686.0L542.6,686.5L543.2,687.4L543.4,688.6L543.2,690.0L542.6,691.5L541.8,692.9L540.8,694.1L539.6,695.0L514.8,709.4L513.6,710.3L512.6,711.5L511.8,712.9L511.2,714.4L511.1,715.8L511.2,717.0L511.8,717.9L512.6,718.4L513.6,718.4L514.8,717.9L539.6,703.6L540.8,703.1L541.8,703.1L542.6,703.6L543.2,704.5L543.4,705.7L543.2,707.1L542.6,708.6L541.8,710.0L540.8,711.2L539.6,712.1L514.8,726.5L513.6,727.4L512.6,728.6L511.8,730.0L511.2,731.5L511.1,732.9L511.2,734.1L511.8,735.0L512.6,735.5L513.6,735.5L514.8,735.0L539.6,720.7L540.8,720.2L541.8,720.2L542.6,720.7L543.2,721.6L543.4,722.8L543.2,724.2L542.6,725.7L541.8,727.1L540.8,728.3L539.6,729.2L514.8,743.6L513.6,744.5L512.6,745.7L511.8,747.1L511.2,748.6L511.1,750.0L511.2,751.2L511.8,752.1L512.6,752.6L513.6,752.6L514.8,752.1L539.6,737.8L540.8,737.3L541.8,737.3L542.6,737.8L543.2,738.7L543.4,739.9L543.2,741.3L542.6,742.8L541.8,744.2L540.8,745.4L539.6,746.3L514.8,760.7L513.6,761.6L512.6,762.8L511.8,764.2L511.2,765.7L511.1,767.1L511.2,768.3L511.8,769.2L512.6,769.7L513.6,769.7L514.8,769.2L539.6,754.9L540.8,754.4L541.8,754.4L542.6,754.9L543.2,755.8L543.4,757.0L543.2,758.4L542.6,759.9L541.8,761.3L540.8,762.5L539.6,763.4L514.8,777.8L513.6,778.7L512.6,779.9L511.8,781.3L511.2,782.8L511.1,784.2L511.2,785.4L511.8,786.3L512.6,786.8L513.6,786.8L514.8,786.3L539.6,772.0L540.8,771.5L541.8,771.5L542.6,772.0L543.2,772.9L543.4,774.1L543.2,775.5L542.6,777.0L541.8,778.4L540.8,779.6L539.6,780.5L514.8,794.9L513.6,795.8L512.6,797.0L511.8,798.4L511.2,799.9L511.1,801.3L511.2,802.5L511.8,803.4L512.6,803.9L513.6,803.9L514.8,803.4L539.6,789.1L540.8,788.6L541.8,788.6L542.6,789.1L543.2,790.0L543.4,791.2L543.2,792.6L542.6,794.1L541.8,795.5L540.8,796.7L539.6,797.6L514.8,812.0L513.6,812.9L512.6,814.1L511.8,815.5L511.2,817.0L511.1,818.4L511.2,819.6L511.8,820.5L512.6,821.0L513.6,821.0L514.8,820.5L539.6,806.2L540.8,805.7L541.8,805.7L542.6,806.2L543.2,807.1L543.4,808.3L543.2,809.7L542.6,811.2L541.8,812.6L540.8,813.8L539.6,814.7L514.8,829.1L513.6,830.0L512.6,831.2L511.8,832.6L511.2,834.1L511.1,835.5L511.2,836.7L511.8,837.6L512.6,838.1L513.6,838.1L514.8,837.6L539.6,823.3L540.8,822.8L541.8,822.8L542.6,823.3L543.2,824.2L543.4,825.4L543.2,826.8L542.6,828.3L541.8,829.7L540.8,830.9L539.6,831.8L514.8,846.2L513.6,847.1L512.6,848.3L511.8,849.7L511.2,851.2L511.1,852.6L511.2,853.8L511.8,854.7L512.6,855.2L513.6,855.2L514.8,854.7L539.6,840.4L540.8,839.9L541.8,839.9L542.6,840.4L543.2,841.3L543.4,842.5L543.2,843.9L542.6,845.4L541.8,846.8L540.8,848.0L539.6,848.9L514.8,863.3L513.6,864.2L512.6,865.4L511.8,866.8L511.2,868.3L511.1,869.7L511.2,870.9L511.8,871.8L512.6,872.3L513.6,872.3L514.8,871.8L539.6,857.5L540.8,857.0L541.8,857.0L542.6,857.5L543.2,858.4L543.4,859.6L543.2,861.0L542.6,862.5L541.8,863.9L540.8,865.1L539.6,866.0L514.8,880.4L513.6,881.3L512.6,882.5L511.8,883.9L511.2,885.4L511.1,886.8L511.2,888.0L511.8,888.9L512.6,889.4L513.6,889.4L514.8,888.9L539.6,874.6L540.8,874.1L541.8,874.1L542.6,874.6L543.2,875.5L543.4,876.7L543.2,878.1L542.6,879.6L541.8,881.0L540.8,882.2L539.6,883.1L514.8,897.5L513.6,898.4L512.6,899.6L511.8,901.0L511.2,902.5L511.1,903.9L511.2,905.1L511.8,906.0L512.6,906.5L513.6,906.5L514.8,906.0L539.6,891.7L540.8,891.2L541.8,891.2L542.6,891.7L543.2,892.6L543.4,893.8L543.2,895.2L542.6,896.7L541.8,898.1L540.8,899.3L539.6,900.2L514.8,914.6L513.6,915.5L512.6,916.7L511.8,918.1L511.2,919.6L511.1,921.0L511.2,922.2L511.8,923.1L512.6,923.6L513.6,923.6L514.8,923.1L539.6,908.8L540.8,908.3L541.8,908.3L542.6,908.8L543.2,909.7L543.4,910.9L543.2,912.3L542.6,913.8L541.8,915.2L540.8,916.4L539.6,917.3L514.8,931.7L513.6,932.6L512.6,933.8L511.8,935.2L511.2,936.7L511.1,938.1L511.2,939.3L511.8,940.2L512.6,940.7L513.6,940.7L514.8,940.2L539.6,925.9L540.8,925.4L541.8,925.4L542.6,925.9L543.2,926.8L543.4,928.0L543.2,929.4L542.6,930.9L541.8,932.3L540.8,933.5L539.6,934.4L514.8,948.8L513.6,949.7L512.6,950.9L511.8,952.3L511.2,953.8L511.1,955.2L511.2,956.4L511.8,957.3L512.6,957.8L513.6,957.8L514.8,957.3L539.6,943.0L540.8,942.5L541.8,942.5L542.6,943.0L543.2,943.9L543.4,945.1L543.2,946.5L542.6,948.0L541.8,949.4L540.8,950.6L539.6,951.5L514.8,965.9L513.6,966.8L512.6,968.0L511.8,969.4L511.2,970.9L511.1,972.3L511.2,973.5L511.8,974.4L512.6,974.9L513.6,974.9L514.8,974.4L539.6,960.1L540.8,959.6L541.8,959.6L542.6,960.1L543.2,961.0L543.4,962.2L543.2,963.6L542.6,965.1L541.8,966.5L540.8,967.7L539.6,968.6L514.8,983.0L513.6,983.9L512.6,985.1L511.8,986.5L511.2,988.0L511.1,989.4L511.2,990.6L511.8,991.5L512.6,992.0L513.6,992.0L514.8,991.5L539.6,977.2L540.8,976.7L541.8,976.7L542.6,977.2L543.2,978.1L543.4,979.3L543.2,980.7L542.6,982.2L541.8,983.6L540.8,984.8L539.6,985.7L514.8,1000.1L513.6,1001.0L512.6,1002.2L511.8,1003.6L511.2,1005.1L511.1,1006.5L511.2,1007.7L511.8,1008.6L512.6,1009.1L513.6,1009.1L514.8,1008.6L539.6,994.3L540.8,993.8L541.8,993.8L542.6,994.3L543.2,995.2L543.4,996.4L543.2,997.8L542.6,999.3L541.8,1000.7L540.8,1001.9L539.6,1002.8L514.8,1017.2L513.6,1018.1L512.6,1019.3L511.8,1020.7L511.2,1022.2L511.1,1023.6L511.2,1024.8L511.8,1025.7L512.6,1026.2L513.6,1026.2L514.8,1025.7L539.6,1011.4L540.8,1010.9L541.8,1010.9L542.6,1011.4L543.2,1012.3L543.4,1013.5L543.2,1014.9L542.6,1016.4L541.8,1017.8L540.8,1019.0L539.6,1019.9L514.8,1034.3L513.6,1035.2L512.6,1036.4L511.8,1037.8L511.2,1039.3L511.1,1040.7L511.2,1041.9L511.8,1042.8L512.6,1043.3L513.6,1043.3L514.8,1042.8L539.6,1028.5L540.8,1028.0L541.8,1028.0L542.6,1028.5L543.2,1029.4L543.4,1030.6L543.2,1032.0L542.6,1033.5L541.8,1034.9L540.8,1036.1L539.6,1037.0L514.8,1051.4L513.6,1052.3L512.6,1053.5L511.8,1054.9L511.2,1056.4L511.1,1057.8L511.2,1059.0L511.8,1059.9L512.6,1060.4L513.6,1060.4L514.8,1059.9L539.6,1045.6L540.8,1045.1L541.8,1045.1L542.6,1045.6L543.2,1046.5L543.4,1047.7L543.2,1049.1L542.6,1050.6L541.8,1052.0L540.8,1053.2L539.6,1054.1L514.8,1068.5L513.6,1069.4L512.6,1070.6L511.8,1072.0L511.2,1073.5L511.1,1074.9L511.2,1076.1L511.8,1077.0L512.6,1077.5L513.6,1077.5L514.8,1077.0L539.6,1062.7L540.8,1062.2L541.8,1062.2L542.6,1062.7L543.2,1063.6L543.4,1064.8L543.2,1066.2L542.6,1067.7L541.8,1069.1L540.8,1070.3L539.6,1071.2L514.8,1085.6L513.6,1086.5L512.6,1087.7L511.8,1089.1L511.2,1090.6L511.1,1092.0L511.2,1093.2L511.8,1094.1L512.6,1094.6L513.6,1094.6L514.8,1094.1L539.6,1079.8L540.8,1079.3L541.8,1079.3L542.6,1079.8L543.2,1080.7L543.4,1081.9L543.2,1083.3L542.6,1084.8L541.8,1086.2L540.8,1087.4L539.6,1088.3L514.8,1102.7L513.6,1103.6L512.6,1104.8L511.8,1106.2L511.2,1107.7L511.1,1109.1L511.2,1110.3L511.8,1111.2L512.6,1111.7L513.6,1111.7L514.8,1111.2L539.6,1096.9L540.8,1096.4L541.8,1096.4L542.6,1096.9L543.2,1097.8L543.4,1099.0L543.2,1100.4L542.6,1101.9L541.8,1103.3L540.8,1104.5L539.6,1105.4L514.8,1119.8L513.6,1120.7L512.6,1121.9L511.8,1123.3L511.2,1124.8L511.1,1126.2L511.2,1127.4L511.8,1128.3L512.6,1128.8L513.6,1128.8L514.8,1128.3L539.6,1114.0L540.8,1113.5L541.8,1113.5L542.6,1114.0L543.2,1114.9L543.4,1116.1L543.2,1117.5L542.6,1119.0L541.8,1120.4L540.8,1121.6L539.6,1122.5" fill="none" stroke="#2b2b2b" stroke-width="1.3" clip-path="url(#cSide)" stroke-linejoin="round"/>
<clipPath id="cConc"><polygon points="615.6,498.0 700.9,450.0 700.9,1075.3 615.6,1123.3"/></clipPath>
<g clip-path="url(#cConc)"><path d="M617.3,437.3L621.8,440.8L616.3,445.3ZM617.3,486.5L621.8,490.0L616.3,494.5ZM633.7,481.3L640.2,481.3L634.7,486.8ZM653.3,483.8L653.3,491.4L647.8,489.8ZM617.3,535.7L621.8,539.2L616.3,543.7ZM633.7,530.5L640.2,530.5L634.7,536.0ZM653.3,533.0L653.3,540.6L647.8,539.0ZM617.3,585.0L621.8,588.5L616.3,593.0ZM633.7,579.7L640.2,579.7L634.7,585.2ZM653.3,582.2L653.3,589.8L647.8,588.3ZM617.3,634.2L621.8,637.7L616.3,642.2ZM633.7,629.0L640.2,629.0L634.7,634.4ZM653.3,631.5L653.3,639.0L647.8,637.5ZM617.3,683.4L621.8,686.9L616.3,691.4ZM633.7,678.2L640.2,678.2L634.7,683.7ZM653.3,680.7L653.3,688.2L647.8,686.7ZM617.3,732.6L621.8,736.1L616.3,740.6ZM633.7,727.4L640.2,727.4L634.7,732.9ZM653.3,729.9L653.3,737.5L647.8,735.9ZM617.3,781.8L621.8,785.3L616.3,789.8ZM633.7,776.6L640.2,776.6L634.7,782.1ZM653.3,779.1L653.3,786.7L647.8,785.1ZM617.3,831.1L621.8,834.6L616.3,839.1ZM633.7,825.8L640.2,825.8L634.7,831.3ZM653.3,828.3L653.3,835.9L647.8,834.4ZM617.3,880.3L621.8,883.8L616.3,888.3ZM633.7,875.1L640.2,875.1L634.7,880.5ZM653.3,877.6L653.3,885.1L647.8,883.6ZM617.3,929.5L621.8,933.0L616.3,937.5ZM633.7,924.3L640.2,924.3L634.7,929.8ZM653.3,926.8L653.3,934.3L647.8,932.8ZM617.3,978.7L621.8,982.2L616.3,986.7ZM633.7,973.5L640.2,973.5L634.7,979.0ZM653.3,976.0L653.3,983.6L647.8,982.0ZM617.3,1027.9L621.8,1031.4L616.3,1035.9ZM633.7,1022.7L640.2,1022.7L634.7,1028.2ZM653.3,1025.2L653.3,1032.8L647.8,1031.2ZM617.3,1077.2L621.8,1080.7L616.3,1085.2ZM633.7,1071.9L640.2,1071.9L634.7,1077.4ZM653.3,1074.4L653.3,1082.0L647.8,1080.5ZM617.3,1126.4L621.8,1129.9L616.3,1134.4ZM633.7,1121.2L640.2,1121.2L634.7,1126.6ZM653.3,1123.7L653.3,1131.2L647.8,1129.7ZM625.9,457.9L630.6,459.7L625.3,465.8ZM645.1,461.4L651.6,457.4L650.2,463.9ZM659.9,461.9L664.4,465.4L658.9,469.9ZM676.3,456.7L682.8,456.7L677.3,462.2ZM695.9,459.2L695.9,466.7L690.4,465.2ZM625.9,507.2L630.6,509.0L625.3,515.0ZM645.1,510.6L651.6,506.6L650.2,513.2ZM659.9,511.1L664.4,514.6L658.9,519.1ZM676.3,505.9L682.8,505.9L677.3,511.4ZM695.9,508.4L695.9,516.0L690.4,514.4ZM625.9,556.4L630.6,558.2L625.3,564.2ZM645.1,559.9L651.6,555.8L650.2,562.4ZM659.9,560.3L664.4,563.9L658.9,568.4ZM676.3,555.1L682.8,555.1L677.3,560.6ZM695.9,557.6L695.9,565.2L690.4,563.7ZM625.9,605.6L630.6,607.4L625.3,613.4ZM645.1,609.1L651.6,605.0L650.2,611.6ZM659.9,609.6L664.4,613.1L658.9,617.6ZM676.3,604.3L682.8,604.3L677.3,609.8ZM695.9,606.8L695.9,614.4L690.4,612.9ZM625.9,654.8L630.6,656.6L625.3,662.6ZM645.1,658.3L651.6,654.3L650.2,660.8ZM659.9,658.8L664.4,662.3L658.9,666.8ZM676.3,653.6L682.8,653.6L677.3,659.1ZM695.9,656.1L695.9,663.6L690.4,662.1ZM625.9,704.0L630.6,705.8L625.3,711.9ZM645.1,707.5L651.6,703.5L650.2,710.0ZM659.9,708.0L664.4,711.5L658.9,716.0ZM676.3,702.8L682.8,702.8L677.3,708.3ZM695.9,705.3L695.9,712.8L690.4,711.3ZM625.9,753.3L630.6,755.1L625.3,761.1ZM645.1,756.7L651.6,752.7L650.2,759.3ZM659.9,757.2L664.4,760.7L658.9,765.2ZM676.3,752.0L682.8,752.0L677.3,757.5ZM695.9,754.5L695.9,762.1L690.4,760.5ZM625.9,802.5L630.6,804.3L625.3,810.3ZM645.1,806.0L651.6,801.9L650.2,808.5ZM659.9,806.4L664.4,810.0L658.9,814.5ZM676.3,801.2L682.8,801.2L677.3,806.7ZM695.9,803.7L695.9,811.3L690.4,809.8ZM625.9,851.7L630.6,853.5L625.3,859.5ZM645.1,855.2L651.6,851.1L650.2,857.7ZM659.9,855.7L664.4,859.2L658.9,863.7ZM676.3,850.4L682.8,850.4L677.3,855.9ZM695.9,852.9L695.9,860.5L690.4,859.0ZM625.9,900.9L630.6,902.7L625.3,908.7ZM645.1,904.4L651.6,900.4L650.2,906.9ZM659.9,904.9L664.4,908.4L658.9,912.9ZM676.3,899.7L682.8,899.7L677.3,905.2ZM695.9,902.2L695.9,909.7L690.4,908.2ZM625.9,950.1L630.6,951.9L625.3,958.0ZM645.1,953.6L651.6,949.6L650.2,956.1ZM659.9,954.1L664.4,957.6L658.9,962.1ZM676.3,948.9L682.8,948.9L677.3,954.4ZM695.9,951.4L695.9,958.9L690.4,957.4ZM625.9,999.4L630.6,1001.2L625.3,1007.2ZM645.1,1002.8L651.6,998.8L650.2,1005.4ZM659.9,1003.3L664.4,1006.8L658.9,1011.3ZM676.3,998.1L682.8,998.1L677.3,1003.6ZM695.9,1000.6L695.9,1008.2L690.4,1006.6ZM625.9,1048.6L630.6,1050.4L625.3,1056.4ZM645.1,1052.1L651.6,1048.0L650.2,1054.6ZM659.9,1052.5L664.4,1056.1L658.9,1060.6ZM676.3,1047.3L682.8,1047.3L677.3,1052.8ZM695.9,1049.8L695.9,1057.4L690.4,1055.9ZM625.9,1097.8L630.6,1099.6L625.3,1105.6ZM645.1,1101.3L651.6,1097.2L650.2,1103.8ZM659.9,1101.8L664.4,1105.3L658.9,1109.8ZM676.3,1096.5L682.8,1096.5L677.3,1102.0ZM695.9,1099.0L695.9,1106.6L690.4,1105.1ZM702.5,437.3L707.0,440.8L701.5,445.3ZM668.5,482.5L673.2,484.3L667.9,490.4ZM687.7,486.0L694.2,482.0L692.8,488.6ZM702.5,486.5L707.0,490.0L701.5,494.5ZM668.5,531.8L673.2,533.6L667.9,539.6ZM687.7,535.3L694.2,531.2L692.8,537.8ZM702.5,535.7L707.0,539.2L701.5,543.7ZM668.5,581.0L673.2,582.8L667.9,588.8ZM687.7,584.5L694.2,580.4L692.8,587.0ZM702.5,585.0L707.0,588.5L701.5,593.0ZM668.5,630.2L673.2,632.0L667.9,638.0ZM687.7,633.7L694.2,629.6L692.8,636.2ZM702.5,634.2L707.0,637.7L701.5,642.2ZM668.5,679.4L673.2,681.2L667.9,687.3ZM687.7,682.9L694.2,678.9L692.8,685.4ZM702.5,683.4L707.0,686.9L701.5,691.4ZM668.5,728.6L673.2,730.4L667.9,736.5ZM687.7,732.1L694.2,728.1L692.8,734.7ZM702.5,732.6L707.0,736.1L701.5,740.6ZM668.5,777.9L673.2,779.7L667.9,785.7ZM687.7,781.4L694.2,777.3L692.8,783.9ZM702.5,781.8L707.0,785.3L701.5,789.8ZM668.5,827.1L673.2,828.9L667.9,834.9ZM687.7,830.6L694.2,826.5L692.8,833.1ZM702.5,831.1L707.0,834.6L701.5,839.1ZM668.5,876.3L673.2,878.1L667.9,884.1ZM687.7,879.8L694.2,875.7L692.8,882.3ZM702.5,880.3L707.0,883.8L701.5,888.3ZM668.5,925.5L673.2,927.3L667.9,933.4ZM687.7,929.0L694.2,925.0L692.8,931.5ZM702.5,929.5L707.0,933.0L701.5,937.5ZM668.5,974.7L673.2,976.5L667.9,982.6ZM687.7,978.2L694.2,974.2L692.8,980.8ZM702.5,978.7L707.0,982.2L701.5,986.7ZM668.5,1024.0L673.2,1025.8L667.9,1031.8ZM687.7,1027.5L694.2,1023.4L692.8,1030.0ZM702.5,1027.9L707.0,1031.4L701.5,1035.9ZM668.5,1073.2L673.2,1075.0L667.9,1081.0ZM687.7,1076.7L694.2,1072.6L692.8,1079.2ZM702.5,1077.2L707.0,1080.7L701.5,1085.2ZM668.5,1122.4L673.2,1124.2L667.9,1130.2ZM687.7,1125.9L694.2,1121.8L692.8,1128.4ZM702.5,1126.4L707.0,1129.9L701.5,1134.4Z" fill="none" stroke="#333" stroke-width="1.2" stroke-linejoin="miter"/>
<path d="M612.9,440.9h0.01M622.2,439.2h0.01M629.0,437.2h0.01M633.4,437.5h0.01M645.0,437.7h0.01M650.8,442.7h0.01M656.4,442.9h0.01M666.2,438.7h0.01M668.7,438.9h0.01M685.5,440.8h0.01M692.3,437.4h0.01M697.2,441.1h0.01M613.9,447.5h0.01M620.8,448.8h0.01M627.5,447.4h0.01M638.3,448.4h0.01M645.9,444.7h0.01M651.5,444.9h0.01M654.2,448.0h0.01M673.3,445.9h0.01M678.6,447.5h0.01M687.0,449.7h0.01M693.0,444.4h0.01M699.9,450.0h0.01M621.3,455.0h0.01M628.8,452.0h0.01M633.4,455.6h0.01M641.5,453.3h0.01M656.7,454.3h0.01M684.5,453.2h0.01M613.1,459.4h0.01M621.9,461.5h0.01M626.0,460.5h0.01M636.4,463.7h0.01M643.1,461.7h0.01M647.3,463.4h0.01M677.4,458.6h0.01M682.4,458.4h0.01M690.0,460.0h0.01M696.0,458.9h0.01M614.2,465.2h0.01M626.9,466.5h0.01M635.2,465.7h0.01M656.9,465.5h0.01M663.1,466.6h0.01M675.1,470.7h0.01M682.9,468.3h0.01M692.2,470.9h0.01M613.6,474.2h0.01M623.6,475.2h0.01M634.3,476.9h0.01M678.1,474.1h0.01M682.2,473.7h0.01M693.2,477.7h0.01M701.6,477.9h0.01M620.3,480.4h0.01M627.2,482.7h0.01M650.9,483.8h0.01M658.0,484.5h0.01M676.1,483.7h0.01M686.8,484.8h0.01M691.4,484.7h0.01M612.8,486.9h0.01M638.0,491.9h0.01M642.1,489.3h0.01M647.1,491.8h0.01M657.2,491.6h0.01M666.2,491.0h0.01M669.5,487.8h0.01M678.5,487.6h0.01M682.8,491.5h0.01M691.7,489.5h0.01M617.5,496.0h0.01M622.1,493.1h0.01M627.1,493.0h0.01M642.8,497.4h0.01M649.0,496.1h0.01M658.7,493.6h0.01M662.5,494.7h0.01M678.4,497.6h0.01M692.7,496.0h0.01M700.2,495.7h0.01M614.9,505.6h0.01M624.3,505.7h0.01M629.4,505.7h0.01M640.7,502.7h0.01M648.4,500.4h0.01M658.7,505.4h0.01M665.3,504.0h0.01M673.3,505.8h0.01M680.7,502.4h0.01M687.9,505.0h0.01M691.6,503.1h0.01M697.2,501.9h0.01M622.3,509.6h0.01M628.0,510.7h0.01M633.4,512.9h0.01M655.6,507.2h0.01M668.8,509.5h0.01M689.9,512.5h0.01M700.2,507.5h0.01M616.1,516.6h0.01M624.6,517.8h0.01M638.1,514.4h0.01M649.0,517.3h0.01M661.8,517.2h0.01M668.7,515.0h0.01M676.2,515.9h0.01M686.6,515.7h0.01M690.1,516.1h0.01M697.5,514.1h0.01M620.1,523.8h0.01M637.9,523.6h0.01M645.0,523.4h0.01M651.1,526.9h0.01M659.0,525.2h0.01M663.4,523.1h0.01M668.8,521.4h0.01M683.0,521.5h0.01M613.7,529.5h0.01M621.8,528.9h0.01M627.6,533.8h0.01M641.5,533.8h0.01M649.1,528.0h0.01M656.8,531.0h0.01M664.0,528.0h0.01M668.5,530.4h0.01M675.1,529.8h0.01M685.5,531.2h0.01M700.3,533.3h0.01M614.0,540.9h0.01M623.3,538.9h0.01M631.0,540.4h0.01M637.4,539.9h0.01M643.1,538.0h0.01M673.4,539.1h0.01M676.4,535.2h0.01M684.2,535.6h0.01M699.8,538.8h0.01M614.9,542.0h0.01M636.2,546.0h0.01M644.4,543.5h0.01M648.6,546.4h0.01M658.4,547.9h0.01M663.3,544.9h0.01M672.6,545.7h0.01M675.5,542.9h0.01M686.5,543.8h0.01M689.1,542.4h0.01M700.0,546.2h0.01M613.7,552.1h0.01M621.8,549.7h0.01M638.9,554.6h0.01M642.8,553.9h0.01M655.6,550.3h0.01M671.5,549.9h0.01M680.7,549.8h0.01M694.3,553.2h0.01M701.4,551.9h0.01M612.0,559.0h0.01M620.8,556.8h0.01M627.9,561.0h0.01M637.5,561.0h0.01M645.6,560.3h0.01M656.2,558.4h0.01M670.2,558.6h0.01M675.3,556.6h0.01M694.6,557.5h0.01M699.1,557.1h0.01M617.7,568.3h0.01M631.5,568.6h0.01M637.3,563.3h0.01M651.5,566.9h0.01M654.3,568.6h0.01M663.8,565.1h0.01M672.4,568.9h0.01M678.9,564.8h0.01M684.4,564.0h0.01M690.2,568.4h0.01M697.3,568.4h0.01M619.8,571.2h0.01M628.1,570.5h0.01M634.6,573.4h0.01M656.5,573.1h0.01M663.0,570.4h0.01M673.8,570.8h0.01M678.8,575.2h0.01M683.6,571.5h0.01M691.7,575.7h0.01M619.2,581.3h0.01M636.5,577.0h0.01M645.6,582.0h0.01M661.7,577.9h0.01M672.1,582.6h0.01M686.6,579.7h0.01M689.2,581.7h0.01M701.5,580.9h0.01M612.8,585.5h0.01M623.2,584.7h0.01M629.1,587.5h0.01M634.3,587.6h0.01M641.8,586.8h0.01M659.3,586.9h0.01M662.5,589.8h0.01M669.8,584.1h0.01M679.0,586.5h0.01M686.0,589.6h0.01M689.2,586.0h0.01M700.1,585.2h0.01M627.2,596.8h0.01M637.9,592.4h0.01M644.6,592.8h0.01M655.1,592.3h0.01M665.0,596.7h0.01M670.4,592.3h0.01M682.3,591.4h0.01M694.4,596.3h0.01M627.1,603.6h0.01M644.0,600.3h0.01M649.0,599.0h0.01M655.7,600.1h0.01M673.8,599.2h0.01M679.9,602.9h0.01M682.3,600.8h0.01M694.5,599.2h0.01M701.4,598.2h0.01M616.9,609.6h0.01M619.2,605.4h0.01M637.5,610.4h0.01M641.6,610.7h0.01M648.6,609.3h0.01M655.7,605.0h0.01M680.7,605.1h0.01M684.9,610.7h0.01M697.5,607.6h0.01M617.6,613.1h0.01M649.0,613.9h0.01M658.7,612.5h0.01M665.5,613.5h0.01M668.2,615.3h0.01M680.9,617.3h0.01M689.5,612.6h0.01M700.3,614.7h0.01M614.5,622.7h0.01M623.5,624.1h0.01M626.7,624.0h0.01M636.4,621.2h0.01M648.5,620.5h0.01M659.3,622.5h0.01M663.4,625.0h0.01M669.4,623.9h0.01M680.9,619.6h0.01M686.9,624.0h0.01M697.8,619.7h0.01M617.8,629.5h0.01M631.2,628.7h0.01M637.7,631.7h0.01M643.6,629.7h0.01M649.2,626.8h0.01M655.5,629.6h0.01M662.2,626.1h0.01M672.1,627.1h0.01M676.2,630.8h0.01M682.4,626.6h0.01M692.3,629.8h0.01M697.0,630.2h0.01M613.7,634.8h0.01M629.4,635.1h0.01M638.2,639.0h0.01M641.2,637.4h0.01M647.0,638.4h0.01M658.9,635.4h0.01M669.0,633.1h0.01M678.8,638.5h0.01M685.7,635.2h0.01M689.9,634.7h0.01M701.6,633.7h0.01M616.8,645.8h0.01M619.8,645.7h0.01M633.3,645.6h0.01M645.4,643.7h0.01M658.7,641.3h0.01M666.1,645.0h0.01M669.3,642.4h0.01M677.3,640.7h0.01M686.3,645.4h0.01M692.4,644.5h0.01M701.0,640.7h0.01M615.3,650.8h0.01M621.5,650.5h0.01M630.0,649.7h0.01M633.1,650.7h0.01M641.4,651.6h0.01M655.1,649.8h0.01M661.8,649.6h0.01M670.7,650.1h0.01M678.8,647.5h0.01M696.3,650.0h0.01M617.7,654.8h0.01M652.9,657.0h0.01M672.7,659.6h0.01M677.1,658.5h0.01M687.4,655.6h0.01M699.0,659.5h0.01M613.6,664.0h0.01M619.2,662.1h0.01M631.6,665.1h0.01M644.7,661.7h0.01M650.8,663.2h0.01M664.5,666.3h0.01M674.0,664.8h0.01M679.8,662.6h0.01M691.2,665.6h0.01M697.1,665.5h0.01M616.9,669.5h0.01M624.9,671.5h0.01M627.9,668.0h0.01M633.9,671.7h0.01M643.1,673.4h0.01M648.4,671.9h0.01M654.0,670.1h0.01M663.1,669.3h0.01M671.5,669.2h0.01M677.8,668.8h0.01M689.9,668.6h0.01M701.2,672.7h0.01M613.6,675.1h0.01M622.4,677.1h0.01M628.7,680.6h0.01M645.4,675.3h0.01M649.4,676.4h0.01M658.7,675.1h0.01M666.6,675.9h0.01M671.6,678.0h0.01M679.9,676.0h0.01M683.8,675.3h0.01M612.0,687.1h0.01M630.5,684.7h0.01M633.6,683.4h0.01M642.0,686.5h0.01M652.1,686.3h0.01M657.3,684.6h0.01M669.6,685.9h0.01M687.3,682.1h0.01M690.4,686.5h0.01M624.3,691.0h0.01M631.4,692.8h0.01M637.0,694.9h0.01M645.0,693.2h0.01M658.3,692.4h0.01M662.3,692.7h0.01M673.5,689.9h0.01M675.6,694.6h0.01M682.9,689.2h0.01M693.2,692.8h0.01M700.4,689.4h0.01M614.2,700.9h0.01M638.2,701.5h0.01M648.2,696.7h0.01M659.1,700.9h0.01M666.0,699.8h0.01M668.6,696.6h0.01M683.9,698.5h0.01M690.5,697.7h0.01M698.2,697.9h0.01M624.1,706.7h0.01M628.5,705.6h0.01M644.2,706.2h0.01M652.2,703.5h0.01M661.0,704.2h0.01M684.9,705.9h0.01M699.0,705.1h0.01M624.7,711.7h0.01M630.2,713.0h0.01M636.8,710.5h0.01M651.7,713.8h0.01M656.4,712.4h0.01M673.3,710.2h0.01M676.6,715.4h0.01M684.3,715.3h0.01M691.8,713.2h0.01M621.1,719.0h0.01M631.1,721.0h0.01M642.6,721.6h0.01M647.8,719.8h0.01M662.1,718.8h0.01M673.1,717.9h0.01M676.5,719.0h0.01M683.0,719.0h0.01M694.9,721.4h0.01M701.8,717.6h0.01M617.9,728.8h0.01M627.2,727.8h0.01M634.2,726.3h0.01M642.4,728.7h0.01M650.0,727.8h0.01M654.9,727.6h0.01M665.4,729.4h0.01M671.4,728.5h0.01M676.4,728.3h0.01M701.1,728.1h0.01M614.7,732.9h0.01M619.6,733.5h0.01M636.8,732.5h0.01M642.7,734.7h0.01M651.1,736.6h0.01M657.9,735.7h0.01M663.9,736.8h0.01M671.3,732.0h0.01M689.6,734.4h0.01M700.3,734.1h0.01M617.0,741.1h0.01M624.7,739.3h0.01M628.4,742.6h0.01M638.9,740.1h0.01M641.6,740.4h0.01M649.5,740.5h0.01M656.1,739.6h0.01M665.4,743.6h0.01M669.3,742.8h0.01M676.3,738.8h0.01M698.8,741.4h0.01M617.8,747.1h0.01M623.9,749.9h0.01M627.8,748.3h0.01M638.0,747.1h0.01M649.3,746.5h0.01M655.1,745.0h0.01M669.5,746.8h0.01M677.6,748.8h0.01M684.2,750.6h0.01M701.0,750.4h0.01M624.0,755.8h0.01M626.1,757.7h0.01M634.5,752.6h0.01M641.4,756.7h0.01M647.9,757.4h0.01M666.3,755.7h0.01M680.4,756.7h0.01M693.2,755.2h0.01M617.3,762.3h0.01M620.4,759.8h0.01M626.4,761.8h0.01M635.9,762.0h0.01M645.2,759.0h0.01M657.4,763.0h0.01M670.5,764.8h0.01M678.8,762.8h0.01M685.7,763.1h0.01M701.9,762.1h0.01M617.4,766.2h0.01M622.8,768.0h0.01M635.8,769.2h0.01M649.6,768.5h0.01M659.0,767.8h0.01M671.0,767.6h0.01M680.8,769.9h0.01M690.9,767.8h0.01M699.8,770.7h0.01M616.3,778.3h0.01M619.3,774.8h0.01M627.1,778.5h0.01M636.9,777.7h0.01M650.7,776.8h0.01M657.6,777.1h0.01M665.0,775.7h0.01M676.1,773.2h0.01M698.2,777.9h0.01M620.5,781.8h0.01M627.9,782.6h0.01M638.6,780.3h0.01M640.2,780.7h0.01M659.5,782.7h0.01M663.3,783.6h0.01M684.5,780.6h0.01M690.3,780.9h0.01M696.0,784.1h0.01M617.8,787.5h0.01M626.1,791.3h0.01M637.4,788.1h0.01M644.6,791.3h0.01M664.8,791.3h0.01M673.6,788.5h0.01M682.1,787.1h0.01M693.9,787.5h0.01M700.4,788.0h0.01M619.4,796.2h0.01M628.6,798.1h0.01M637.8,796.2h0.01M643.8,796.5h0.01M651.7,799.7h0.01M662.8,794.4h0.01M680.0,796.0h0.01M687.9,799.0h0.01M690.9,796.6h0.01M616.1,804.6h0.01M633.0,802.6h0.01M643.5,805.9h0.01M659.0,805.9h0.01M669.6,806.1h0.01M687.5,803.1h0.01M692.3,805.8h0.01M700.5,806.6h0.01M615.6,812.1h0.01M620.2,809.5h0.01M640.5,812.8h0.01M657.5,813.4h0.01M670.9,811.5h0.01M676.2,809.1h0.01M684.2,811.4h0.01M692.1,808.9h0.01M702.0,810.2h0.01M615.8,819.7h0.01M622.6,817.1h0.01M626.1,815.2h0.01M650.4,816.6h0.01M666.7,819.6h0.01M682.2,816.2h0.01M689.5,815.3h0.01M701.2,817.7h0.01M629.6,824.4h0.01M638.8,823.5h0.01M643.8,827.7h0.01M649.4,824.7h0.01M659.8,828.0h0.01M661.2,823.5h0.01M673.4,827.4h0.01M686.7,826.3h0.01M694.9,822.3h0.01M700.5,827.6h0.01M613.8,832.5h0.01M627.9,830.5h0.01M635.9,830.0h0.01M640.9,833.1h0.01M651.3,830.2h0.01M659.6,830.3h0.01M684.7,829.6h0.01M614.7,838.0h0.01M629.8,836.9h0.01M633.3,840.3h0.01M640.9,841.2h0.01M649.5,836.9h0.01M659.0,838.0h0.01M663.9,837.9h0.01M680.9,836.3h0.01M690.3,838.9h0.01M697.5,837.2h0.01M617.9,849.0h0.01M627.7,848.4h0.01M637.4,844.8h0.01M651.8,845.0h0.01M654.0,848.0h0.01M662.1,845.6h0.01M678.4,843.8h0.01M686.6,847.3h0.01M689.5,843.5h0.01M699.0,844.6h0.01M615.7,854.2h0.01M627.2,850.4h0.01M644.3,850.3h0.01M659.1,855.2h0.01M661.1,855.5h0.01M673.2,851.6h0.01M680.0,852.2h0.01M684.2,853.6h0.01M692.1,852.7h0.01M696.7,854.3h0.01M630.3,859.3h0.01M645.2,862.7h0.01M650.1,860.2h0.01M654.1,862.8h0.01M662.1,857.6h0.01M672.9,857.2h0.01M679.2,858.2h0.01M685.6,860.5h0.01M693.2,857.6h0.01M612.3,864.7h0.01M622.0,865.7h0.01M628.4,864.8h0.01M638.2,864.9h0.01M644.5,865.0h0.01M663.5,869.0h0.01M670.4,869.6h0.01M683.4,866.0h0.01M694.9,868.8h0.01M629.1,876.7h0.01M642.5,874.8h0.01M650.2,871.4h0.01M657.0,871.1h0.01M666.8,875.7h0.01M679.9,876.3h0.01M692.8,872.6h0.01M697.6,874.3h0.01M620.5,881.1h0.01M631.7,879.7h0.01M636.9,878.7h0.01M645.7,881.1h0.01M649.8,881.2h0.01M654.7,878.8h0.01M663.4,879.7h0.01M668.5,881.3h0.01M685.4,881.9h0.01M693.3,880.8h0.01M699.7,880.8h0.01M613.5,886.3h0.01M621.3,888.5h0.01M628.1,890.2h0.01M636.3,887.9h0.01M645.9,886.8h0.01M654.4,890.2h0.01M661.4,887.3h0.01M672.4,885.7h0.01M680.8,889.4h0.01M684.0,887.1h0.01M692.7,890.1h0.01M616.4,896.5h0.01M630.7,896.3h0.01M645.2,892.0h0.01M657.0,897.8h0.01M663.5,896.7h0.01M677.3,894.7h0.01M686.3,893.8h0.01M692.3,894.3h0.01M700.7,897.1h0.01M614.7,900.1h0.01M619.9,902.5h0.01M626.5,904.5h0.01M638.1,904.0h0.01M649.6,904.5h0.01M654.3,902.4h0.01M666.5,903.6h0.01M674.0,902.1h0.01M679.1,901.3h0.01M685.6,901.1h0.01M699.2,899.6h0.01M614.4,909.4h0.01M624.3,911.8h0.01M628.6,909.7h0.01M643.2,910.9h0.01M648.9,911.9h0.01M661.7,911.4h0.01M672.9,911.9h0.01M682.9,907.7h0.01M692.0,907.1h0.01M699.8,909.6h0.01M618.0,916.8h0.01M621.5,917.7h0.01M630.1,913.0h0.01M638.1,916.5h0.01M641.2,916.0h0.01M648.6,916.9h0.01M660.0,916.4h0.01M661.7,913.9h0.01M675.6,914.0h0.01M686.9,916.7h0.01M696.1,917.6h0.01M616.3,922.1h0.01M620.6,920.6h0.01M635.1,922.7h0.01M640.3,925.3h0.01M652.8,922.6h0.01M655.5,920.3h0.01M680.4,924.9h0.01M685.6,925.8h0.01M694.7,921.5h0.01M700.3,921.3h0.01M617.3,929.9h0.01M627.0,929.2h0.01M638.8,928.7h0.01M640.7,930.2h0.01M649.4,927.4h0.01M659.0,929.1h0.01M662.1,928.7h0.01M668.2,931.0h0.01M675.9,931.2h0.01M683.6,932.0h0.01M691.7,932.0h0.01M614.1,938.3h0.01M624.8,935.2h0.01M634.4,936.7h0.01M644.2,935.6h0.01M656.2,935.5h0.01M662.3,939.2h0.01M671.1,937.3h0.01M679.6,936.3h0.01M685.4,935.9h0.01M689.5,935.1h0.01M616.0,941.7h0.01M621.2,944.0h0.01M626.4,942.9h0.01M633.8,945.3h0.01M642.4,946.5h0.01M669.7,941.2h0.01M679.0,943.1h0.01M686.0,945.2h0.01M694.1,943.1h0.01M697.1,941.7h0.01M626.2,948.2h0.01M634.2,949.8h0.01M640.2,949.9h0.01M648.1,953.0h0.01M658.3,949.5h0.01M665.1,950.1h0.01M673.0,952.7h0.01M675.3,953.1h0.01M682.3,949.5h0.01M693.7,949.3h0.01M623.2,957.4h0.01M640.5,960.7h0.01M652.6,959.1h0.01M670.7,955.3h0.01M677.6,958.1h0.01M693.6,955.3h0.01M700.8,956.6h0.01M617.8,965.8h0.01M620.5,962.4h0.01M628.5,963.2h0.01M633.8,966.2h0.01M641.4,963.5h0.01M649.7,967.6h0.01M655.8,967.3h0.01M664.4,964.0h0.01M679.6,963.0h0.01M685.6,964.8h0.01M613.7,971.2h0.01M619.4,970.7h0.01M630.2,971.7h0.01M634.9,971.8h0.01M641.0,969.4h0.01M653.0,973.5h0.01M658.3,974.9h0.01M661.7,971.9h0.01M669.1,972.3h0.01M680.5,972.9h0.01M687.6,972.9h0.01M690.5,969.8h0.01M700.6,974.0h0.01M613.1,979.8h0.01M637.7,981.0h0.01M648.1,981.0h0.01M656.2,979.3h0.01M666.0,977.4h0.01M671.4,979.8h0.01M687.4,981.7h0.01M692.0,976.9h0.01M699.5,976.5h0.01M613.0,985.7h0.01M626.2,985.6h0.01M637.3,983.0h0.01M662.7,987.0h0.01M670.5,985.0h0.01M679.0,988.0h0.01M690.8,985.7h0.01M698.1,984.2h0.01M613.9,992.8h0.01M658.9,990.4h0.01M664.7,991.8h0.01M673.7,992.9h0.01M676.8,992.1h0.01M690.1,994.1h0.01M696.5,994.0h0.01M615.5,999.5h0.01M622.4,999.4h0.01M627.1,1002.3h0.01M633.7,1002.2h0.01M640.6,1000.2h0.01M649.9,1000.3h0.01M657.4,997.7h0.01M664.5,997.5h0.01M668.4,999.6h0.01M686.3,1001.5h0.01M694.9,1001.3h0.01M701.0,999.4h0.01M617.8,1007.4h0.01M630.7,1004.3h0.01M635.2,1004.1h0.01M641.3,1005.8h0.01M649.6,1009.3h0.01M659.2,1007.4h0.01M679.5,1006.0h0.01M694.0,1004.7h0.01M700.4,1009.7h0.01M622.6,1011.6h0.01M630.8,1011.7h0.01M641.5,1012.2h0.01M652.0,1014.5h0.01M654.1,1011.7h0.01M671.3,1012.7h0.01M677.3,1011.9h0.01M693.1,1015.8h0.01M614.1,1018.9h0.01M624.2,1022.8h0.01M627.1,1022.9h0.01M635.4,1020.9h0.01M645.1,1020.4h0.01M654.5,1020.0h0.01M666.4,1021.5h0.01M669.0,1020.2h0.01M678.5,1020.3h0.01M682.0,1021.5h0.01M689.1,1020.8h0.01M612.9,1029.0h0.01M620.6,1028.0h0.01M629.4,1028.2h0.01M650.4,1029.6h0.01M671.8,1027.2h0.01M679.8,1030.2h0.01M690.8,1029.6h0.01M615.8,1034.1h0.01M621.4,1032.4h0.01M627.9,1037.9h0.01M635.2,1033.5h0.01M642.1,1032.8h0.01M652.2,1034.7h0.01M657.4,1033.8h0.01M661.4,1033.8h0.01M672.4,1035.3h0.01M687.5,1035.5h0.01M690.1,1035.5h0.01M616.6,1041.6h0.01M628.9,1044.4h0.01M634.5,1039.1h0.01M641.6,1043.2h0.01M649.4,1040.2h0.01M659.2,1042.9h0.01M665.4,1044.8h0.01M668.5,1043.9h0.01M682.8,1040.1h0.01M694.3,1042.8h0.01M614.0,1050.5h0.01M621.4,1050.1h0.01M626.3,1048.5h0.01M636.8,1048.0h0.01M643.6,1047.5h0.01M647.1,1051.6h0.01M659.9,1046.3h0.01M665.3,1048.0h0.01M668.9,1046.9h0.01M686.9,1048.5h0.01M692.5,1049.3h0.01M699.6,1048.0h0.01M623.3,1057.6h0.01M637.6,1058.9h0.01M641.7,1056.1h0.01M654.1,1055.9h0.01M665.6,1055.2h0.01M679.5,1053.5h0.01M682.8,1053.4h0.01M692.3,1054.1h0.01M612.9,1061.1h0.01M633.2,1064.7h0.01M645.9,1063.0h0.01M649.1,1064.8h0.01M655.9,1065.4h0.01M665.4,1060.4h0.01M670.4,1065.2h0.01M678.4,1062.5h0.01M697.3,1061.5h0.01M614.6,1068.4h0.01M623.6,1070.9h0.01M632.0,1068.3h0.01M633.9,1072.2h0.01M651.5,1071.9h0.01M656.0,1069.9h0.01M672.1,1070.6h0.01M678.5,1072.3h0.01M687.3,1069.2h0.01M617.2,1080.0h0.01M619.1,1074.7h0.01M638.5,1074.9h0.01M648.0,1078.1h0.01M656.0,1079.5h0.01M666.3,1079.9h0.01M669.4,1078.8h0.01M675.2,1077.0h0.01M684.6,1074.6h0.01M694.9,1075.9h0.01M614.9,1081.8h0.01M620.1,1085.1h0.01M630.4,1084.0h0.01M635.1,1084.0h0.01M648.3,1086.8h0.01M669.1,1082.6h0.01M675.3,1084.1h0.01M685.3,1083.2h0.01M693.1,1084.9h0.01M699.3,1085.1h0.01M628.4,1089.9h0.01M638.8,1090.3h0.01M642.5,1088.9h0.01M657.6,1093.6h0.01M664.7,1090.3h0.01M669.2,1088.7h0.01M700.2,1089.9h0.01M615.3,1096.9h0.01M630.5,1100.1h0.01M636.6,1101.0h0.01M643.8,1099.5h0.01M651.3,1097.4h0.01M657.7,1099.1h0.01M664.8,1098.3h0.01M671.7,1096.6h0.01M686.3,1098.1h0.01M690.3,1095.9h0.01M615.1,1105.2h0.01M627.0,1106.9h0.01M636.8,1107.0h0.01M656.3,1107.0h0.01M668.9,1103.5h0.01M677.1,1106.8h0.01M684.7,1102.5h0.01M695.0,1106.2h0.01M698.9,1106.8h0.01M623.1,1111.2h0.01M627.4,1111.2h0.01M635.3,1109.1h0.01M643.4,1109.3h0.01M651.3,1110.6h0.01M655.5,1114.0h0.01M664.8,1114.2h0.01M670.5,1113.8h0.01M677.2,1109.3h0.01M684.2,1113.3h0.01M691.4,1112.9h0.01M614.3,1119.5h0.01M631.8,1120.3h0.01M637.0,1118.0h0.01M644.5,1118.3h0.01M650.0,1121.4h0.01M664.6,1118.8h0.01M673.0,1118.5h0.01M680.3,1118.6h0.01M685.1,1120.9h0.01M693.4,1118.4h0.01M700.1,1119.3h0.01M627.3,1123.5h0.01M640.5,1127.5h0.01M647.3,1127.1h0.01M656.9,1123.3h0.01M663.5,1126.5h0.01M691.0,1126.1h0.01M701.9,1124.6h0.01M613.9,1131.5h0.01M629.1,1132.5h0.01M634.8,1135.2h0.01M655.2,1130.3h0.01M663.2,1132.8h0.01M671.5,1132.2h0.01M687.5,1133.3h0.01M690.9,1133.2h0.01M699.4,1131.9h0.01" stroke="#645d59" stroke-width="1.5" stroke-linecap="round" fill="none"/></g>
<polygon points="615.6,498.0 700.9,450.0 700.9,1075.3 615.6,1123.3" fill="none" stroke="#2b2b2b" stroke-width="1.4" stroke-linejoin="round" />
<polygon points="68.4,226.4 510.8,481.2 510.8,1106.5 68.4,851.7" fill="#f0e8ce" stroke="none" stroke-width="1.4" stroke-linejoin="round" />
<polygon points="226.1,317.6 241.7,326.6 241.7,333.6 226.1,324.6" fill="#efdb97" stroke="#2b2b2b" stroke-width="1.0" stroke-linejoin="round" />
<polygon points="429.6,435.0 445.9,444.4 445.9,451.4 429.6,442.0" fill="#efdb97" stroke="#2b2b2b" stroke-width="1.0" stroke-linejoin="round" />
<defs><linearGradient id="gW" x1="0" y1="0" x2="1" y2="0"><stop offset="0" stop-color="#d3dfe4"/><stop offset="1" stop-color="#d8e3e8"/></linearGradient></defs>
<path d="M66.7,237.7L230,332.0L237,331.1L441.7,449.3C452.4,458 463.6,464.7 472.5,475.9C478,484 484,497 487,502.7C490,509 491.4,516 491.4,526L491.4,1097.6L66.7,852.3Z" fill="#d7e2e7" stroke="#8d979c" stroke-width="1.0" stroke-linejoin="round"/>
<line x1="68.4" y1="226.4" x2="68.4" y2="238.5" stroke="#2b2b2b" stroke-width="1.0" stroke-linecap="round" />
<polygon points="198.3,310.2 226.5,326.6 224.2,328.3 199.2,313.3" fill="#e4edf1" stroke="#8d979c" stroke-width="0.8" stroke-linejoin="round" />
<path d="M241,341 C248,346 254.5,353 258.5,360 L253.4,376.4 L255.2,379.4 C262,377 268,377.8 272.4,382.4 C276,389 277.6,398 277.6,409.5 L277.6,470" fill="none" stroke="#e9f0f3" stroke-width="2.4" stroke-linejoin="round" opacity="0.85"/>
<path d="M237.2,336.6 C243.4,341.5 252.4,347.7 259.5,357.6 C264,364 270,377 273.8,382.6 C277.5,390 279,398 279,409.5 L279,974.9" fill="none" stroke="#596165" stroke-width="1.3"/>
<path d="M260.4,361.2 L252.4,376.4 L254.2,380 C260,377.6 267,377 273,381.7 C269,374 264,367 260.4,361.2Z" fill="#e6eff2" stroke="#5f676b" stroke-width="1.2" stroke-linejoin="round"/>
<path d="M446,456.5 C457,462 465,469.5 470.2,478 L466.2,494.6 L467.6,497.2 C474,495 480.5,496.5 485.2,502.2 C488.6,509 490,516 490,526 L490,590" fill="none" stroke="#e9f0f3" stroke-width="2.4" stroke-linejoin="round" opacity="0.85"/>
<path d="M441.7,451.8 C452.4,458 463.6,464.7 472.5,475.9 C478,484 484,497 487,502.7 C490,509 491.4,516 491.4,526 L491.4,1097.6" fill="none" stroke="#596165" stroke-width="1.3"/>
<path d="M471.9,478.1 L465.2,494.9 L466.4,497.7 C473,495 480.5,495.5 485.9,501.6 C481,493 476,485 471.9,478.1Z" fill="#e6eff2" stroke="#5f676b" stroke-width="1.2" stroke-linejoin="round"/>
<line x1="68.4" y1="226.4" x2="510.8" y2="481.2" stroke="#2b2b2b" stroke-width="1.4" stroke-linecap="round" />
<line x1="510.8" y1="481.2" x2="510.8" y2="1106.5" stroke="#2b2b2b" stroke-width="1.4" stroke-linecap="round" />
<line x1="491.4" y1="1097.6" x2="510.8" y2="1106.5" stroke="#2b2b2b" stroke-width="1.0" stroke-linecap="round" />
<line x1="510.8" y1="1106.5" x2="544.3" y2="1088.8" stroke="#2b2b2b" stroke-width="1.4" stroke-linecap="round" />
<line x1="544.3" y1="1088.8" x2="610.7" y2="1126.0" stroke="#2b2b2b" stroke-width="1.4" stroke-linecap="round" />
<polygon points="223.7,330.6 232.8,335.9 232.8,953.9 223.7,948.6" fill="#efdb97" stroke="#2b2b2b" stroke-width="1.0" stroke-linejoin="round" /><polygon points="232.8,335.9 236.7,333.6 236.7,951.6 232.8,953.9" fill="#f3e3a4" stroke="#2b2b2b" stroke-width="1.0" stroke-linejoin="round" /><polygon points="223.7,330.6 227.6,328.3 236.7,333.6 232.8,335.9" fill="#fdf3b6" stroke="#2b2b2b" stroke-width="0.9" stroke-linejoin="round" />
<polygon points="428.1,447.6 437.6,453.1 437.6,1070.9 428.1,1065.4" fill="#efdb97" stroke="#2b2b2b" stroke-width="1.0" stroke-linejoin="round" /><polygon points="437.6,453.1 442.0,450.5 442.0,1068.3 437.6,1070.9" fill="#f3e3a4" stroke="#2b2b2b" stroke-width="1.0" stroke-linejoin="round" /><polygon points="428.1,447.6 432.5,445.1 442.0,450.5 437.6,453.1" fill="#fdf3b6" stroke="#2b2b2b" stroke-width="0.9" stroke-linejoin="round" />
<polygon points="53.3,313.3 65.8,306.2 461.6,535.4 449.8,542.4" fill="#fdf3b6" stroke="#2b2b2b" stroke-width="1.1" stroke-linejoin="round" /><polygon points="53.3,313.3 449.8,542.4 449.8,561.4 53.3,332.3" fill="#efdb97" stroke="#2b2b2b" stroke-width="1.1" stroke-linejoin="round" /><polygon points="449.8,542.4 461.6,535.4 461.6,554.4 449.8,561.4" fill="#f3e3a4" stroke="#2b2b2b" stroke-width="1.1" stroke-linejoin="round" /><circle cx="216.4" cy="417.4" r="2.0" fill="#1c1c1c"/><circle cx="420.3" cy="535.0" r="2.0" fill="#1c1c1c"/>
<polygon points="53.3,548.8 65.8,541.7 461.6,770.9 449.8,777.9" fill="#fdf3b6" stroke="#2b2b2b" stroke-width="1.1" stroke-linejoin="round" /><polygon points="53.3,548.8 449.8,777.9 449.8,796.9 53.3,567.8" fill="#efdb97" stroke="#2b2b2b" stroke-width="1.1" stroke-linejoin="round" /><polygon points="449.8,777.9 461.6,770.9 461.6,789.9 449.8,796.9" fill="#f3e3a4" stroke="#2b2b2b" stroke-width="1.1" stroke-linejoin="round" /><circle cx="216.4" cy="652.9" r="2.0" fill="#1c1c1c"/><circle cx="420.3" cy="770.5" r="2.0" fill="#1c1c1c"/>
<polygon points="53.3,784.3 65.8,777.2 461.6,1006.4 449.8,1013.4" fill="#fdf3b6" stroke="#2b2b2b" stroke-width="1.1" stroke-linejoin="round" /><polygon points="53.3,784.3 449.8,1013.4 449.8,1032.4 53.3,803.3" fill="#efdb97" stroke="#2b2b2b" stroke-width="1.1" stroke-linejoin="round" /><polygon points="449.8,1013.4 461.6,1006.4 461.6,1025.4 449.8,1032.4" fill="#f3e3a4" stroke="#2b2b2b" stroke-width="1.1" stroke-linejoin="round" /><circle cx="216.4" cy="888.4" r="2.0" fill="#1c1c1c"/><circle cx="420.3" cy="1006.0" r="2.0" fill="#1c1c1c"/>
<path d="M179.4,23.0L106.1,23.0L106.1,354.0" fill="none" stroke="#2b2b2b" stroke-width="1.1"/><circle cx="106.1" cy="354.0" r="1.9" fill="#1c1c1c"/>
<path d="M179.4,118.8L155.3,118.8L155.3,322.0" fill="none" stroke="#2b2b2b" stroke-width="1.1"/><circle cx="155.3" cy="322.0" r="1.9" fill="#1c1c1c"/>
<path d="M497.0,132.5L432.4,132.5L432.4,471.0" fill="none" stroke="#2b2b2b" stroke-width="1.1"/><circle cx="432.4" cy="471.0" r="1.9" fill="#1c1c1c"/>
<path d="M549.5,204.0L452.2,204.0L452.2,430.3" fill="none" stroke="#2b2b2b" stroke-width="1.1"/><circle cx="452.2" cy="430.3" r="1.9" fill="#1c1c1c"/>
<path d="M549.5,303.5L506.6,303.5L506.6,462.4" fill="none" stroke="#2b2b2b" stroke-width="1.1"/><circle cx="506.6" cy="462.4" r="1.9" fill="#1c1c1c"/>
<text x="193.6" y="32.3" font-size="24.85" >Lekt ≥ 36 mm × 48 mm for stående <tspan dx="1.0" letter-spacing="-0.5">kledning,</tspan></text>
<text x="193.9" y="61.8" font-size="24.85" >c/c avhengig av kledningstype</text>
<text x="194.0" y="110.2" font-size="24.85" >Vindsperre med klemte</text>
<text x="194.0" y="139.9" font-size="24.85" >skjøter</text>
<text x="505.0" y="141.6" font-size="24.85" >Utlekting ≥<tspan dx="-4.6"> </tspan>18 mm × 48 mm</text>
<text x="505.0" y="171.6" font-size="24.85" >c/c 600 mm</text>
<text x="558.5" y="213.6" font-size="24.85" >Påfôring</text>
<text x="558.5" y="243.6" font-size="24.85" >48 mm × 100–200 mm</text>
<text x="558.5" y="273.6" font-size="24.85" >c/c 600 mm</text>
<text x="558.5" y="313.0" font-size="24.85" >Isolasjon</text></svg>
<div class="cap">
<div>Fig. 42</div>
<div class="j">Utvendig etterisolering med mineralull i påfôring, her vist med vind-</div>
<div class="j">sperre av rullprodukt. Horisontale lekter er en forutsetning for monte-</div>
<div>ring av stående trekledning eller platekledning.</div>
</div>
</body></html>
